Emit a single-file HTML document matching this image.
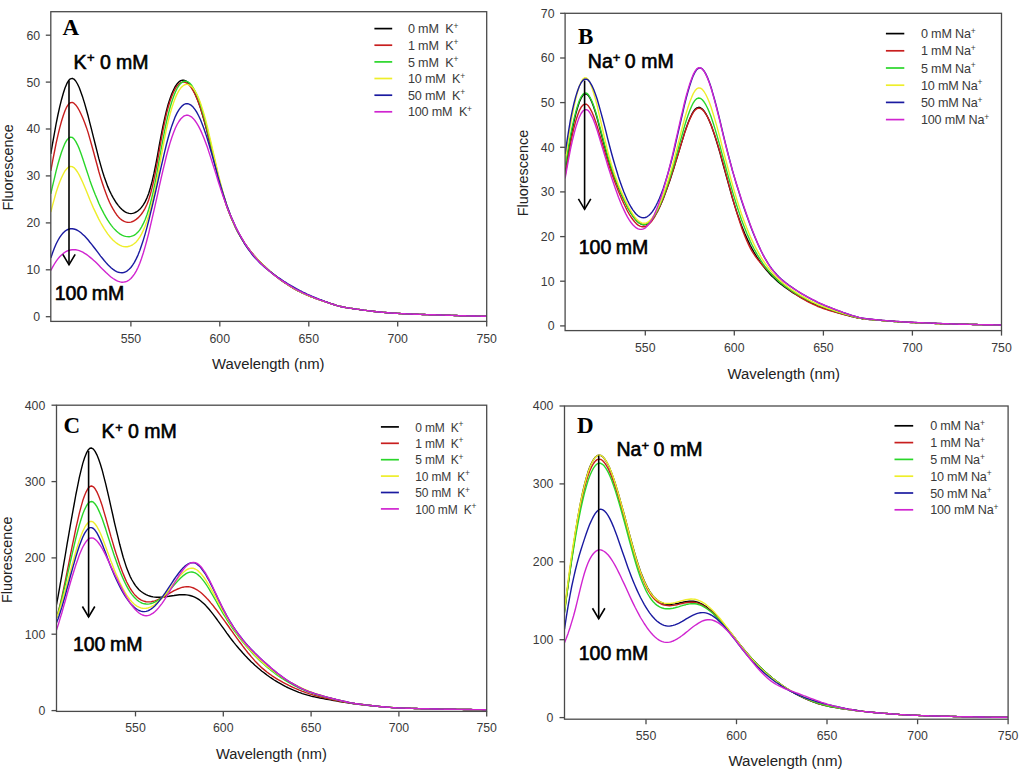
<!DOCTYPE html>
<html><head><meta charset="utf-8"><style>
html,body{margin:0;padding:0;background:#fff;width:1024px;height:772px;overflow:hidden}
svg{display:block}
text{font-family:"Liberation Sans", sans-serif}
text.serif{font-family:"Liberation Serif",serif}
</style></head><body>
<svg width="1024" height="772" viewBox="0 0 1024 772">
<defs><clipPath id="clipA"><rect x="50.8" y="11.7" width="435.9" height="309.7"/></clipPath><clipPath id="clipB"><rect x="565.1" y="13.3" width="436.4" height="317.3"/></clipPath><clipPath id="clipC"><rect x="56.5" y="405.2" width="430.2" height="306.2"/></clipPath><clipPath id="clipD"><rect x="564.5" y="406" width="443.6" height="313.2"/></clipPath></defs>
<rect width="1024" height="772" fill="#fff"/>
<g fill="none" stroke-width="1.4" stroke-linejoin="round" clip-path="url(#clipA)">
<path d="M50.8,153.9 L52.6,143.4 L54.4,133.3 L56.1,123.8 L57.9,115.0 L59.7,106.9 L61.5,99.7 L63.3,93.3 L65.0,88.0 L66.8,83.7 L68.6,80.6 L70.4,78.8 L72.2,78.3 L73.9,79.1 L75.7,81.0 L77.5,84.0 L79.3,87.8 L81.0,92.4 L82.8,97.6 L84.6,103.4 L86.4,109.7 L88.2,116.3 L89.9,123.2 L91.7,130.2 L93.5,137.4 L95.3,144.5 L97.1,151.6 L98.8,158.4 L100.6,164.9 L102.4,171.1 L104.2,176.7 L106.0,181.8 L107.7,186.4 L109.5,190.6 L111.3,194.3 L113.1,197.6 L114.9,200.6 L116.6,203.3 L118.4,205.6 L120.2,207.7 L122.0,209.5 L123.7,210.9 L125.5,212.1 L127.3,212.9 L129.1,213.4 L130.9,213.6 L132.6,213.4 L134.4,212.9 L136.2,212.0 L138.0,210.8 L139.8,209.3 L141.5,207.4 L143.3,204.9 L145.1,201.9 L146.9,198.1 L148.7,193.5 L150.4,187.8 L152.2,181.1 L154.0,173.2 L155.8,164.3 L157.6,154.8 L159.3,145.1 L161.1,135.6 L162.9,126.5 L164.7,118.2 L166.4,110.9 L168.2,104.3 L170.0,98.7 L171.8,93.8 L173.6,89.7 L175.3,86.4 L177.1,83.8 L178.9,81.9 L180.7,80.7 L182.5,80.2 L184.2,80.3 L186.0,81.0 L187.8,82.4 L189.6,84.3 L191.4,86.8 L193.1,89.8 L194.9,93.4 L196.7,97.6 L198.5,102.2 L200.3,107.4 L202.0,113.1 L203.8,119.3 L205.6,125.9 L207.4,132.8 L209.1,140.0 L210.9,147.3 L212.7,154.6 L214.5,162.0 L216.3,169.3 L218.0,176.3 L219.8,183.2 L221.6,189.6 L223.4,195.7 L225.2,201.3 L226.9,206.6 L228.7,211.5 L230.5,216.0 L232.3,220.3 L234.1,224.2 L235.8,227.9 L237.6,231.4 L239.4,234.6 L241.2,237.7 L243.0,240.6 L244.7,243.3 L246.5,245.9 L248.3,248.4 L250.1,250.7 L251.8,252.9 L253.6,255.0 L255.4,257.0 L257.2,258.9 L259.0,260.8 L260.7,262.6 L262.5,264.4 L264.3,266.1 L266.1,267.8 L267.9,269.4 L269.6,271.0 L271.4,272.5 L273.2,274.0 L275.0,275.5 L276.8,276.9 L278.5,278.3 L280.3,279.6 L282.1,280.9 L283.9,282.1 L285.7,283.3 L287.4,284.5 L289.2,285.6 L291.0,286.7 L292.8,287.8 L294.5,288.8 L296.3,289.8 L298.1,290.8 L299.9,291.7 L301.7,292.6 L303.4,293.4 L305.2,294.2 L307.0,295.0 L308.8,295.7 L310.6,296.5 L312.3,297.1 L314.1,297.8 L315.9,298.5 L317.7,299.1 L319.5,299.8 L321.2,300.4 L323.0,301.0 L324.8,301.6 L326.6,302.2 L328.4,302.8 L330.1,303.4 L331.9,304.0 L333.7,304.5 L335.5,305.1 L337.2,305.6 L339.0,306.1 L340.8,306.5 L342.6,307.0 L344.4,307.3 L346.1,307.6 L347.9,307.9 L349.7,308.2 L351.5,308.4 L353.3,308.7 L355.0,308.9 L356.8,309.2 L358.6,309.4 L360.4,309.7 L362.2,309.9 L363.9,310.2 L365.7,310.4 L367.5,310.6 L369.3,310.8 L371.1,311.1 L372.8,311.3 L374.6,311.5 L376.4,311.7 L378.2,311.9 L379.9,312.0 L381.7,312.2 L383.5,312.4 L385.3,312.5 L387.1,312.7 L388.8,312.8 L390.6,313.0 L392.4,313.1 L394.2,313.2 L396.0,313.3 L397.7,313.4 L399.5,313.5 L401.3,313.6 L403.1,313.7 L404.9,313.8 L406.6,313.9 L408.4,313.9 L410.2,314.0 L412.0,314.1 L413.8,314.2 L415.5,314.2 L417.3,314.3 L419.1,314.4 L420.9,314.4 L422.6,314.5 L424.4,314.5 L426.2,314.6 L428.0,314.6 L429.8,314.7 L431.5,314.7 L433.3,314.8 L435.1,314.8 L436.9,314.9 L438.7,314.9 L440.4,315.0 L442.2,315.1 L444.0,315.1 L445.8,315.2 L447.6,315.2 L449.3,315.3 L451.1,315.4 L452.9,315.4 L454.7,315.5 L456.5,315.5 L458.2,315.6 L460.0,315.7 L461.8,315.7 L463.6,315.8 L465.3,315.8 L467.1,315.9 L468.9,315.9 L470.7,315.9 L472.5,316.0 L474.2,316.0 L476.0,316.1 L477.8,316.1 L479.6,316.1 L481.4,316.2 L483.1,316.2 L484.9,316.2 L486.7,316.2" stroke="#000000"/>
<path d="M50.8,170.8 L52.6,161.2 L54.4,152.0 L56.1,143.3 L57.9,135.3 L59.7,127.9 L61.5,121.3 L63.3,115.5 L65.0,110.7 L66.8,106.8 L68.6,104.1 L70.4,102.6 L72.2,102.4 L73.9,103.2 L75.7,104.9 L77.5,107.4 L79.3,110.5 L81.0,114.0 L82.8,118.0 L84.6,122.4 L86.4,127.4 L88.2,132.9 L89.9,138.9 L91.7,145.3 L93.5,151.8 L95.3,158.5 L97.1,165.0 L98.8,171.5 L100.6,177.6 L102.4,183.3 L104.2,188.6 L106.0,193.5 L107.7,198.0 L109.5,202.2 L111.3,205.9 L113.1,209.2 L114.9,212.2 L116.6,214.7 L118.4,216.9 L120.2,218.7 L122.0,220.1 L123.7,221.2 L125.5,221.9 L127.3,222.3 L129.1,222.4 L130.9,222.1 L132.6,221.5 L134.4,220.6 L136.2,219.4 L138.0,217.9 L139.8,216.1 L141.5,214.0 L143.3,211.4 L145.1,208.3 L146.9,204.5 L148.7,199.9 L150.4,194.2 L152.2,187.4 L154.0,179.4 L155.8,170.3 L157.6,160.5 L159.3,150.4 L161.1,140.3 L162.9,130.7 L164.7,121.9 L166.4,114.1 L168.2,107.3 L170.0,101.3 L171.8,96.3 L173.6,92.0 L175.3,88.6 L177.1,85.9 L178.9,84.0 L180.7,82.7 L182.5,82.1 L184.2,82.1 L186.0,82.7 L187.8,83.8 L189.6,85.5 L191.4,87.8 L193.1,90.6 L194.9,94.0 L196.7,97.9 L198.5,102.4 L200.3,107.5 L202.0,113.0 L203.8,119.1 L205.6,125.6 L207.4,132.5 L209.1,139.7 L210.9,147.0 L212.7,154.4 L214.5,161.8 L216.3,169.2 L218.0,176.3 L219.8,183.2 L221.6,189.7 L223.4,195.8 L225.2,201.4 L226.9,206.7 L228.7,211.6 L230.5,216.1 L232.3,220.3 L234.1,224.3 L235.8,227.9 L237.6,231.4 L239.4,234.6 L241.2,237.7 L243.0,240.6 L244.7,243.3 L246.5,245.9 L248.3,248.3 L250.1,250.6 L251.8,252.8 L253.6,254.9 L255.4,257.0 L257.2,258.9 L259.0,260.8 L260.7,262.6 L262.5,264.4 L264.3,266.1 L266.1,267.8 L267.9,269.4 L269.6,271.0 L271.4,272.6 L273.2,274.0 L275.0,275.5 L276.8,276.9 L278.5,278.3 L280.3,279.6 L282.1,280.9 L283.9,282.2 L285.7,283.4 L287.4,284.5 L289.2,285.7 L291.0,286.8 L292.8,287.8 L294.5,288.9 L296.3,289.9 L298.1,290.8 L299.9,291.7 L301.7,292.6 L303.4,293.4 L305.2,294.2 L307.0,295.0 L308.8,295.8 L310.6,296.5 L312.3,297.2 L314.1,297.8 L315.9,298.5 L317.7,299.1 L319.5,299.8 L321.2,300.4 L323.0,301.0 L324.8,301.6 L326.6,302.2 L328.4,302.8 L330.1,303.4 L331.9,304.0 L333.7,304.5 L335.5,305.1 L337.2,305.6 L339.0,306.1 L340.8,306.5 L342.6,307.0 L344.4,307.3 L346.1,307.6 L347.9,307.9 L349.7,308.2 L351.5,308.4 L353.3,308.7 L355.0,308.9 L356.8,309.2 L358.6,309.4 L360.4,309.7 L362.2,309.9 L363.9,310.2 L365.7,310.4 L367.5,310.6 L369.3,310.8 L371.1,311.1 L372.8,311.3 L374.6,311.5 L376.4,311.7 L378.2,311.9 L379.9,312.0 L381.7,312.2 L383.5,312.4 L385.3,312.5 L387.1,312.7 L388.8,312.8 L390.6,313.0 L392.4,313.1 L394.2,313.2 L396.0,313.3 L397.7,313.4 L399.5,313.5 L401.3,313.6 L403.1,313.7 L404.9,313.8 L406.6,313.9 L408.4,313.9 L410.2,314.0 L412.0,314.1 L413.8,314.2 L415.5,314.2 L417.3,314.3 L419.1,314.4 L420.9,314.4 L422.6,314.5 L424.4,314.5 L426.2,314.6 L428.0,314.6 L429.8,314.7 L431.5,314.7 L433.3,314.8 L435.1,314.8 L436.9,314.9 L438.7,314.9 L440.4,315.0 L442.2,315.1 L444.0,315.1 L445.8,315.2 L447.6,315.2 L449.3,315.3 L451.1,315.4 L452.9,315.4 L454.7,315.5 L456.5,315.5 L458.2,315.6 L460.0,315.7 L461.8,315.7 L463.6,315.8 L465.3,315.8 L467.1,315.9 L468.9,315.9 L470.7,315.9 L472.5,316.0 L474.2,316.0 L476.0,316.1 L477.8,316.1 L479.6,316.1 L481.4,316.2 L483.1,316.2 L484.9,316.2 L486.7,316.2" stroke="#c81e1e"/>
<path d="M50.8,193.8 L52.6,185.9 L54.4,178.4 L56.1,171.1 L57.9,164.3 L59.7,158.0 L61.5,152.3 L63.3,147.4 L65.0,143.3 L66.8,140.2 L68.6,138.1 L70.4,137.1 L72.2,137.4 L73.9,138.8 L75.7,141.4 L77.5,144.8 L79.3,148.9 L81.0,153.6 L82.8,158.8 L84.6,164.2 L86.4,169.7 L88.2,175.1 L89.9,180.4 L91.7,185.4 L93.5,190.2 L95.3,194.8 L97.1,199.1 L98.8,203.2 L100.6,207.1 L102.4,210.7 L104.2,214.1 L106.0,217.3 L107.7,220.2 L109.5,222.9 L111.3,225.4 L113.1,227.6 L114.9,229.6 L116.6,231.3 L118.4,232.8 L120.2,234.1 L122.0,235.1 L123.7,235.8 L125.5,236.4 L127.3,236.6 L129.1,236.7 L130.9,236.4 L132.6,235.9 L134.4,235.1 L136.2,233.8 L138.0,232.1 L139.8,229.9 L141.5,227.1 L143.3,223.7 L145.1,219.7 L146.9,215.0 L148.7,209.5 L150.4,203.2 L152.2,196.1 L154.0,188.1 L155.8,179.1 L157.6,169.5 L159.3,159.6 L161.1,149.6 L162.9,139.8 L164.7,130.6 L166.4,122.2 L168.2,114.6 L170.0,107.8 L171.8,101.8 L173.6,96.6 L175.3,92.2 L177.1,88.5 L178.9,85.6 L180.7,83.4 L182.5,82.0 L184.2,81.2 L186.0,81.2 L187.8,81.8 L189.6,83.1 L191.4,85.0 L193.1,87.6 L194.9,90.8 L196.7,94.6 L198.5,99.1 L200.3,104.1 L202.0,109.7 L203.8,115.8 L205.6,122.4 L207.4,129.4 L209.1,136.8 L210.9,144.3 L212.7,151.9 L214.5,159.5 L216.3,167.1 L218.0,174.5 L219.8,181.6 L221.6,188.3 L223.4,194.6 L225.2,200.5 L226.9,205.9 L228.7,211.0 L230.5,215.7 L232.3,220.0 L234.1,224.1 L235.8,227.9 L237.6,231.4 L239.4,234.7 L241.2,237.8 L243.0,240.8 L244.7,243.5 L246.5,246.1 L248.3,248.6 L250.1,250.9 L251.8,253.1 L253.6,255.2 L255.4,257.2 L257.2,259.1 L259.0,260.9 L260.7,262.7 L262.5,264.5 L264.3,266.2 L266.1,267.8 L267.9,269.4 L269.6,271.0 L271.4,272.5 L273.2,274.0 L275.0,275.4 L276.8,276.8 L278.5,278.2 L280.3,279.5 L282.1,280.8 L283.9,282.0 L285.7,283.2 L287.4,284.4 L289.2,285.5 L291.0,286.6 L292.8,287.7 L294.5,288.7 L296.3,289.7 L298.1,290.7 L299.9,291.6 L301.7,292.5 L303.4,293.3 L305.2,294.1 L307.0,294.9 L308.8,295.7 L310.6,296.4 L312.3,297.1 L314.1,297.8 L315.9,298.4 L317.7,299.1 L319.5,299.7 L321.2,300.4 L323.0,301.0 L324.8,301.6 L326.6,302.2 L328.4,302.8 L330.1,303.4 L331.9,304.0 L333.7,304.5 L335.5,305.1 L337.2,305.6 L339.0,306.1 L340.8,306.5 L342.6,307.0 L344.4,307.3 L346.1,307.6 L347.9,307.9 L349.7,308.2 L351.5,308.4 L353.3,308.7 L355.0,308.9 L356.8,309.2 L358.6,309.4 L360.4,309.7 L362.2,309.9 L363.9,310.2 L365.7,310.4 L367.5,310.6 L369.3,310.8 L371.1,311.1 L372.8,311.3 L374.6,311.5 L376.4,311.7 L378.2,311.9 L379.9,312.0 L381.7,312.2 L383.5,312.4 L385.3,312.5 L387.1,312.7 L388.8,312.8 L390.6,313.0 L392.4,313.1 L394.2,313.2 L396.0,313.3 L397.7,313.4 L399.5,313.5 L401.3,313.6 L403.1,313.7 L404.9,313.8 L406.6,313.9 L408.4,313.9 L410.2,314.0 L412.0,314.1 L413.8,314.2 L415.5,314.2 L417.3,314.3 L419.1,314.4 L420.9,314.4 L422.6,314.5 L424.4,314.5 L426.2,314.6 L428.0,314.6 L429.8,314.7 L431.5,314.7 L433.3,314.8 L435.1,314.8 L436.9,314.9 L438.7,314.9 L440.4,315.0 L442.2,315.1 L444.0,315.1 L445.8,315.2 L447.6,315.2 L449.3,315.3 L451.1,315.4 L452.9,315.4 L454.7,315.5 L456.5,315.5 L458.2,315.6 L460.0,315.7 L461.8,315.7 L463.6,315.8 L465.3,315.8 L467.1,315.9 L468.9,315.9 L470.7,315.9 L472.5,316.0 L474.2,316.0 L476.0,316.1 L477.8,316.1 L479.6,316.1 L481.4,316.2 L483.1,316.2 L484.9,316.2 L486.7,316.2" stroke="#2ad62a"/>
<path d="M50.8,212.1 L52.6,205.1 L54.4,198.6 L56.1,192.5 L57.9,187.0 L59.7,182.0 L61.5,177.7 L63.3,174.0 L65.0,170.9 L66.8,168.7 L68.6,167.1 L70.4,166.5 L72.2,166.6 L73.9,167.6 L75.7,169.5 L77.5,172.0 L79.3,175.1 L81.0,178.6 L82.8,182.5 L84.6,186.7 L86.4,191.1 L88.2,195.5 L89.9,199.8 L91.7,204.0 L93.5,208.1 L95.3,211.9 L97.1,215.6 L98.8,219.1 L100.6,222.5 L102.4,225.6 L104.2,228.6 L106.0,231.3 L107.7,233.8 L109.5,236.2 L111.3,238.3 L113.1,240.2 L114.9,241.8 L116.6,243.2 L118.4,244.4 L120.2,245.4 L122.0,246.1 L123.7,246.6 L125.5,246.7 L127.3,246.7 L129.1,246.3 L130.9,245.7 L132.6,244.8 L134.4,243.5 L136.2,241.9 L138.0,239.7 L139.8,237.2 L141.5,234.1 L143.3,230.4 L145.1,226.2 L146.9,221.3 L148.7,215.8 L150.4,209.5 L152.2,202.5 L154.0,194.7 L155.8,186.0 L157.6,176.7 L159.3,166.9 L161.1,157.0 L162.9,147.2 L164.7,137.8 L166.4,129.1 L168.2,121.3 L170.0,114.3 L171.8,108.0 L173.6,102.6 L175.3,97.9 L177.1,93.9 L178.9,90.6 L180.7,88.1 L182.5,86.2 L184.2,85.0 L186.0,84.4 L187.8,84.4 L189.6,85.1 L191.4,86.3 L193.1,88.2 L194.9,90.8 L196.7,94.0 L198.5,97.9 L200.3,102.4 L202.0,107.6 L203.8,113.4 L205.6,119.9 L207.4,126.9 L209.1,134.3 L210.9,141.9 L212.7,149.8 L214.5,157.6 L216.3,165.5 L218.0,173.1 L219.8,180.5 L221.6,187.5 L223.4,194.0 L225.2,200.1 L226.9,205.7 L228.7,210.8 L230.5,215.6 L232.3,220.1 L234.1,224.2 L235.8,228.0 L237.6,231.5 L239.4,234.9 L241.2,238.0 L243.0,240.9 L244.7,243.7 L246.5,246.2 L248.3,248.7 L250.1,251.0 L251.8,253.2 L253.6,255.2 L255.4,257.2 L257.2,259.1 L259.0,261.0 L260.7,262.8 L262.5,264.5 L264.3,266.2 L266.1,267.8 L267.9,269.4 L269.6,271.0 L271.4,272.5 L273.2,274.0 L275.0,275.4 L276.8,276.8 L278.5,278.2 L280.3,279.5 L282.1,280.8 L283.9,282.0 L285.7,283.2 L287.4,284.4 L289.2,285.5 L291.0,286.6 L292.8,287.6 L294.5,288.7 L296.3,289.7 L298.1,290.6 L299.9,291.5 L301.7,292.4 L303.4,293.3 L305.2,294.1 L307.0,294.9 L308.8,295.6 L310.6,296.3 L312.3,297.1 L314.1,297.7 L315.9,298.4 L317.7,299.1 L319.5,299.7 L321.2,300.4 L323.0,301.0 L324.8,301.6 L326.6,302.2 L328.4,302.8 L330.1,303.4 L331.9,304.0 L333.7,304.5 L335.5,305.1 L337.2,305.6 L339.0,306.1 L340.8,306.5 L342.6,307.0 L344.4,307.3 L346.1,307.6 L347.9,307.9 L349.7,308.2 L351.5,308.4 L353.3,308.7 L355.0,308.9 L356.8,309.2 L358.6,309.4 L360.4,309.7 L362.2,309.9 L363.9,310.2 L365.7,310.4 L367.5,310.6 L369.3,310.8 L371.1,311.1 L372.8,311.3 L374.6,311.5 L376.4,311.7 L378.2,311.9 L379.9,312.0 L381.7,312.2 L383.5,312.4 L385.3,312.5 L387.1,312.7 L388.8,312.8 L390.6,313.0 L392.4,313.1 L394.2,313.2 L396.0,313.3 L397.7,313.4 L399.5,313.5 L401.3,313.6 L403.1,313.7 L404.9,313.8 L406.6,313.9 L408.4,313.9 L410.2,314.0 L412.0,314.1 L413.8,314.2 L415.5,314.2 L417.3,314.3 L419.1,314.4 L420.9,314.4 L422.6,314.5 L424.4,314.5 L426.2,314.6 L428.0,314.6 L429.8,314.7 L431.5,314.7 L433.3,314.8 L435.1,314.8 L436.9,314.9 L438.7,314.9 L440.4,315.0 L442.2,315.1 L444.0,315.1 L445.8,315.2 L447.6,315.2 L449.3,315.3 L451.1,315.4 L452.9,315.4 L454.7,315.5 L456.5,315.5 L458.2,315.6 L460.0,315.7 L461.8,315.7 L463.6,315.8 L465.3,315.8 L467.1,315.9 L468.9,315.9 L470.7,315.9 L472.5,316.0 L474.2,316.0 L476.0,316.1 L477.8,316.1 L479.6,316.1 L481.4,316.2 L483.1,316.2 L484.9,316.2 L486.7,316.2" stroke="#eeee2a"/>
<path d="M50.8,258.1 L52.6,252.8 L54.4,248.1 L56.1,244.0 L57.9,240.5 L59.7,237.4 L61.5,234.9 L63.3,232.8 L65.0,231.2 L66.8,230.0 L68.6,229.2 L70.4,228.8 L72.2,228.7 L73.9,229.0 L75.7,229.5 L77.5,230.4 L79.3,231.5 L81.0,232.8 L82.8,234.4 L84.6,236.1 L86.4,238.0 L88.2,240.0 L89.9,242.2 L91.7,244.4 L93.5,246.7 L95.3,249.0 L97.1,251.4 L98.8,253.7 L100.6,256.1 L102.4,258.3 L104.2,260.5 L106.0,262.6 L107.7,264.5 L109.5,266.3 L111.3,268.0 L113.1,269.4 L114.9,270.6 L116.6,271.6 L118.4,272.3 L120.2,272.6 L122.0,272.7 L123.7,272.5 L125.5,271.8 L127.3,270.8 L129.1,269.3 L130.9,267.5 L132.6,265.1 L134.4,262.3 L136.2,258.9 L138.0,255.1 L139.8,250.6 L141.5,245.6 L143.3,240.1 L145.1,234.1 L146.9,227.6 L148.7,220.8 L150.4,213.7 L152.2,206.3 L154.0,198.6 L155.8,190.9 L157.6,182.9 L159.3,175.0 L161.1,167.1 L162.9,159.3 L164.7,151.7 L166.4,144.5 L168.2,137.8 L170.0,131.5 L171.8,125.9 L173.6,121.0 L175.3,116.6 L177.1,112.9 L178.9,109.9 L180.7,107.4 L182.5,105.6 L184.2,104.3 L186.0,103.7 L187.8,103.7 L189.6,104.3 L191.4,105.4 L193.1,107.1 L194.9,109.4 L196.7,112.2 L198.5,115.5 L200.3,119.3 L202.0,123.6 L203.8,128.3 L205.6,133.4 L207.4,139.0 L209.1,144.9 L210.9,151.0 L212.7,157.4 L214.5,163.8 L216.3,170.3 L218.0,176.7 L219.8,182.9 L221.6,189.0 L223.4,194.7 L225.2,200.2 L226.9,205.4 L228.7,210.3 L230.5,215.0 L232.3,219.4 L234.1,223.5 L235.8,227.4 L237.6,231.2 L239.4,234.6 L241.2,237.9 L243.0,241.0 L244.7,244.0 L246.5,246.7 L248.3,249.3 L250.1,251.7 L251.8,254.0 L253.6,256.2 L255.4,258.2 L257.2,260.1 L259.0,261.9 L260.7,263.7 L262.5,265.3 L264.3,266.9 L266.1,268.4 L267.9,269.8 L269.6,271.2 L271.4,272.6 L273.2,273.9 L275.0,275.2 L276.8,276.5 L278.5,277.7 L280.3,278.9 L282.1,280.1 L283.9,281.3 L285.7,282.4 L287.4,283.5 L289.2,284.6 L291.0,285.7 L292.8,286.7 L294.5,287.7 L296.3,288.7 L298.1,289.6 L299.9,290.6 L301.7,291.5 L303.4,292.4 L305.2,293.2 L307.0,294.1 L308.8,294.9 L310.6,295.7 L312.3,296.5 L314.1,297.2 L315.9,297.9 L317.7,298.7 L319.5,299.4 L321.2,300.0 L323.0,300.7 L324.8,301.4 L326.6,302.0 L328.4,302.7 L330.1,303.3 L331.9,303.9 L333.7,304.5 L335.5,305.1 L337.2,305.6 L339.0,306.1 L340.8,306.5 L342.6,307.0 L344.4,307.3 L346.1,307.6 L347.9,307.9 L349.7,308.2 L351.5,308.4 L353.3,308.7 L355.0,308.9 L356.8,309.2 L358.6,309.4 L360.4,309.7 L362.2,309.9 L363.9,310.2 L365.7,310.4 L367.5,310.6 L369.3,310.8 L371.1,311.1 L372.8,311.3 L374.6,311.5 L376.4,311.7 L378.2,311.9 L379.9,312.0 L381.7,312.2 L383.5,312.4 L385.3,312.5 L387.1,312.7 L388.8,312.8 L390.6,313.0 L392.4,313.1 L394.2,313.2 L396.0,313.3 L397.7,313.4 L399.5,313.5 L401.3,313.6 L403.1,313.7 L404.9,313.8 L406.6,313.9 L408.4,313.9 L410.2,314.0 L412.0,314.1 L413.8,314.2 L415.5,314.2 L417.3,314.3 L419.1,314.4 L420.9,314.4 L422.6,314.5 L424.4,314.5 L426.2,314.6 L428.0,314.6 L429.8,314.7 L431.5,314.7 L433.3,314.8 L435.1,314.8 L436.9,314.9 L438.7,314.9 L440.4,315.0 L442.2,315.1 L444.0,315.1 L445.8,315.2 L447.6,315.2 L449.3,315.3 L451.1,315.4 L452.9,315.4 L454.7,315.5 L456.5,315.5 L458.2,315.6 L460.0,315.7 L461.8,315.7 L463.6,315.8 L465.3,315.8 L467.1,315.9 L468.9,315.9 L470.7,315.9 L472.5,316.0 L474.2,316.0 L476.0,316.1 L477.8,316.1 L479.6,316.1 L481.4,316.2 L483.1,316.2 L484.9,316.2 L486.7,316.2" stroke="#1a1aa0"/>
<path d="M50.8,270.5 L52.6,267.1 L54.4,264.0 L56.1,261.3 L57.9,258.9 L59.7,256.8 L61.5,255.0 L63.3,253.4 L65.0,252.2 L66.8,251.2 L68.6,250.5 L70.4,250.0 L72.2,249.7 L73.9,249.6 L75.7,249.8 L77.5,250.1 L79.3,250.7 L81.0,251.4 L82.8,252.2 L84.6,253.3 L86.4,254.4 L88.2,255.7 L89.9,257.1 L91.7,258.6 L93.5,260.2 L95.3,261.8 L97.1,263.6 L98.8,265.3 L100.6,267.2 L102.4,269.0 L104.2,270.7 L106.0,272.5 L107.7,274.1 L109.5,275.7 L111.3,277.2 L113.1,278.5 L114.9,279.6 L116.6,280.6 L118.4,281.4 L120.2,281.9 L122.0,282.2 L123.7,282.1 L125.5,281.8 L127.3,281.1 L129.1,280.0 L130.9,278.5 L132.6,276.5 L134.4,274.1 L136.2,271.1 L138.0,267.5 L139.8,263.3 L141.5,258.5 L143.3,253.0 L145.1,246.9 L146.9,240.3 L148.7,233.3 L150.4,225.9 L152.2,218.2 L154.0,210.3 L155.8,202.3 L157.6,194.3 L159.3,186.3 L161.1,178.3 L162.9,170.6 L164.7,163.1 L166.4,156.0 L168.2,149.3 L170.0,143.1 L171.8,137.5 L173.6,132.5 L175.3,128.2 L177.1,124.5 L178.9,121.5 L180.7,119.0 L182.5,117.2 L184.2,115.9 L186.0,115.3 L187.8,115.2 L189.6,115.8 L191.4,116.8 L193.1,118.4 L194.9,120.5 L196.7,123.1 L198.5,126.1 L200.3,129.6 L202.0,133.4 L203.8,137.7 L205.6,142.4 L207.4,147.3 L209.1,152.6 L210.9,158.1 L212.7,163.7 L214.5,169.4 L216.3,175.1 L218.0,180.8 L219.8,186.4 L221.6,191.8 L223.4,197.0 L225.2,201.9 L226.9,206.7 L228.7,211.2 L230.5,215.4 L232.3,219.5 L234.1,223.4 L235.8,227.1 L237.6,230.6 L239.4,234.0 L241.2,237.2 L243.0,240.2 L244.7,243.1 L246.5,245.8 L248.3,248.4 L250.1,250.8 L251.8,253.1 L253.6,255.4 L255.4,257.5 L257.2,259.5 L259.0,261.4 L260.7,263.2 L262.5,265.0 L264.3,266.6 L266.1,268.2 L267.9,269.8 L269.6,271.3 L271.4,272.8 L273.2,274.2 L275.0,275.6 L276.8,276.9 L278.5,278.2 L280.3,279.5 L282.1,280.7 L283.9,281.9 L285.7,283.1 L287.4,284.2 L289.2,285.3 L291.0,286.4 L292.8,287.5 L294.5,288.5 L296.3,289.5 L298.1,290.4 L299.9,291.3 L301.7,292.2 L303.4,293.1 L305.2,293.9 L307.0,294.7 L308.8,295.4 L310.6,296.2 L312.3,296.9 L314.1,297.6 L315.9,298.3 L317.7,299.0 L319.5,299.6 L321.2,300.3 L323.0,300.9 L324.8,301.5 L326.6,302.2 L328.4,302.8 L330.1,303.4 L331.9,304.0 L333.7,304.5 L335.5,305.1 L337.2,305.6 L339.0,306.1 L340.8,306.5 L342.6,307.0 L344.4,307.3 L346.1,307.6 L347.9,307.9 L349.7,308.2 L351.5,308.4 L353.3,308.7 L355.0,308.9 L356.8,309.2 L358.6,309.4 L360.4,309.7 L362.2,309.9 L363.9,310.2 L365.7,310.4 L367.5,310.6 L369.3,310.8 L371.1,311.1 L372.8,311.3 L374.6,311.5 L376.4,311.7 L378.2,311.9 L379.9,312.0 L381.7,312.2 L383.5,312.4 L385.3,312.5 L387.1,312.7 L388.8,312.8 L390.6,313.0 L392.4,313.1 L394.2,313.2 L396.0,313.3 L397.7,313.4 L399.5,313.5 L401.3,313.6 L403.1,313.7 L404.9,313.8 L406.6,313.9 L408.4,313.9 L410.2,314.0 L412.0,314.1 L413.8,314.2 L415.5,314.2 L417.3,314.3 L419.1,314.4 L420.9,314.4 L422.6,314.5 L424.4,314.5 L426.2,314.6 L428.0,314.6 L429.8,314.7 L431.5,314.7 L433.3,314.8 L435.1,314.8 L436.9,314.9 L438.7,314.9 L440.4,315.0 L442.2,315.1 L444.0,315.1 L445.8,315.2 L447.6,315.2 L449.3,315.3 L451.1,315.4 L452.9,315.4 L454.7,315.5 L456.5,315.5 L458.2,315.6 L460.0,315.7 L461.8,315.7 L463.6,315.8 L465.3,315.8 L467.1,315.9 L468.9,315.9 L470.7,315.9 L472.5,316.0 L474.2,316.0 L476.0,316.1 L477.8,316.1 L479.6,316.1 L481.4,316.2 L483.1,316.2 L484.9,316.2 L486.7,316.2" stroke="#d024d0"/>
</g>
<rect x="50.8" y="11.7" width="435.9" height="309.7" fill="none" stroke="#4a4a4a" stroke-width="1.3"/>
<line x1="45.8" y1="316.7" x2="50.8" y2="316.7" stroke="#4a4a4a" stroke-width="1.3"/>
<text x="40.2" y="321.1" text-anchor="end" font-size="12.3" fill="#3a3a3a">0</text>
<line x1="45.8" y1="269.8" x2="50.8" y2="269.8" stroke="#4a4a4a" stroke-width="1.3"/>
<text x="40.2" y="274.2" text-anchor="end" font-size="12.3" fill="#3a3a3a">10</text>
<line x1="45.8" y1="222.9" x2="50.8" y2="222.9" stroke="#4a4a4a" stroke-width="1.3"/>
<text x="40.2" y="227.3" text-anchor="end" font-size="12.3" fill="#3a3a3a">20</text>
<line x1="45.8" y1="175.9" x2="50.8" y2="175.9" stroke="#4a4a4a" stroke-width="1.3"/>
<text x="40.2" y="180.3" text-anchor="end" font-size="12.3" fill="#3a3a3a">30</text>
<line x1="45.8" y1="129.0" x2="50.8" y2="129.0" stroke="#4a4a4a" stroke-width="1.3"/>
<text x="40.2" y="133.4" text-anchor="end" font-size="12.3" fill="#3a3a3a">40</text>
<line x1="45.8" y1="82.1" x2="50.8" y2="82.1" stroke="#4a4a4a" stroke-width="1.3"/>
<text x="40.2" y="86.5" text-anchor="end" font-size="12.3" fill="#3a3a3a">50</text>
<line x1="45.8" y1="35.2" x2="50.8" y2="35.2" stroke="#4a4a4a" stroke-width="1.3"/>
<text x="40.2" y="39.6" text-anchor="end" font-size="12.3" fill="#3a3a3a">60</text>
<line x1="130.9" y1="321.4" x2="130.9" y2="326.4" stroke="#4a4a4a" stroke-width="1.3"/>
<text x="130.9" y="342.6" text-anchor="middle" font-size="12.3" fill="#3a3a3a">550</text>
<line x1="219.8" y1="321.4" x2="219.8" y2="326.4" stroke="#4a4a4a" stroke-width="1.3"/>
<text x="219.8" y="342.6" text-anchor="middle" font-size="12.3" fill="#3a3a3a">600</text>
<line x1="308.8" y1="321.4" x2="308.8" y2="326.4" stroke="#4a4a4a" stroke-width="1.3"/>
<text x="308.8" y="342.6" text-anchor="middle" font-size="12.3" fill="#3a3a3a">650</text>
<line x1="397.7" y1="321.4" x2="397.7" y2="326.4" stroke="#4a4a4a" stroke-width="1.3"/>
<text x="397.7" y="342.6" text-anchor="middle" font-size="12.3" fill="#3a3a3a">700</text>
<line x1="486.7" y1="321.4" x2="486.7" y2="326.4" stroke="#4a4a4a" stroke-width="1.3"/>
<text x="486.7" y="342.6" text-anchor="middle" font-size="12.3" fill="#3a3a3a">750</text>
<text x="212" y="369" font-size="14.85" fill="#222">Wavelength (nm)</text>
<text transform="translate(13.4,167.4) rotate(-90)" text-anchor="middle" font-size="14.4" fill="#222">Fluorescence</text>
<text x="62.5" y="35" class="serif" font-weight="bold" font-size="23" fill="#000">A</text>
<text x="73.4" y="68.7" font-size="19.5" fill="#000" stroke="#000" stroke-width="0.6">K</text>
<text x="87.0" y="62.2" font-size="13" fill="#000" stroke="#000" stroke-width="0.5">+</text>
<text x="99.9" y="68.7" font-size="19.5" fill="#000" stroke="#000" stroke-width="0.6">0</text>
<text x="116.0" y="68.7" font-size="19.5" fill="#000" stroke="#000" stroke-width="0.6">mM</text>
<text x="54.7" y="300.3" font-size="19.5" fill="#000" stroke="#000" stroke-width="0.6">100</text>
<text x="91.7" y="300.3" font-size="19.5" fill="#000" stroke="#000" stroke-width="0.6">mM</text>
<line x1="69.0" y1="80.5" x2="69.0" y2="264.8" stroke="#000" stroke-width="1.6"/>
<path d="M62.8,254.3 L69.0,264.8 L75.2,254.3" fill="none" stroke="#000" stroke-width="1.6"/>
<line x1="374.4" y1="28.6" x2="392.2" y2="28.6" stroke="#000000" stroke-width="1.7"/>
<text x="408" y="33.2" font-size="12.6" letter-spacing="-0.2" fill="#3a3a3a">0 mM  K<tspan dy="-4.5" font-size="8.5">+</tspan></text>
<line x1="374.4" y1="45.2" x2="392.2" y2="45.2" stroke="#c81e1e" stroke-width="1.7"/>
<text x="408" y="49.9" font-size="12.6" letter-spacing="-0.2" fill="#3a3a3a">1 mM  K<tspan dy="-4.5" font-size="8.5">+</tspan></text>
<line x1="374.4" y1="61.9" x2="392.2" y2="61.9" stroke="#2ad62a" stroke-width="1.7"/>
<text x="408" y="66.5" font-size="12.6" letter-spacing="-0.2" fill="#3a3a3a">5 mM  K<tspan dy="-4.5" font-size="8.5">+</tspan></text>
<line x1="374.4" y1="78.5" x2="392.2" y2="78.5" stroke="#eeee2a" stroke-width="1.7"/>
<text x="408" y="83.1" font-size="12.6" letter-spacing="-0.2" fill="#3a3a3a">10 mM  K<tspan dy="-4.5" font-size="8.5">+</tspan></text>
<line x1="374.4" y1="95.2" x2="392.2" y2="95.2" stroke="#1a1aa0" stroke-width="1.7"/>
<text x="408" y="99.8" font-size="12.6" letter-spacing="-0.2" fill="#3a3a3a">50 mM  K<tspan dy="-4.5" font-size="8.5">+</tspan></text>
<line x1="374.4" y1="111.8" x2="392.2" y2="111.8" stroke="#d024d0" stroke-width="1.7"/>
<text x="408" y="116.4" font-size="12.6" letter-spacing="-0.2" fill="#3a3a3a">100 mM  K<tspan dy="-4.5" font-size="8.5">+</tspan></text>
<g fill="none" stroke-width="1.4" stroke-linejoin="round" clip-path="url(#clipB)">
<path d="M565.1,171.8 L566.9,160.3 L568.7,149.4 L570.4,139.2 L572.2,129.9 L574.0,121.4 L575.8,113.9 L577.6,107.5 L579.3,102.2 L581.1,98.1 L582.9,95.3 L584.7,93.9 L586.5,94.0 L588.3,95.4 L590.0,98.2 L591.8,102.0 L593.6,106.8 L595.4,112.3 L597.2,118.4 L598.9,124.9 L600.7,131.7 L602.5,138.6 L604.3,145.3 L606.1,151.8 L607.8,158.0 L609.6,163.7 L611.4,169.1 L613.2,174.2 L615.0,178.9 L616.8,183.5 L618.5,187.8 L620.3,191.9 L622.1,195.9 L623.9,199.7 L625.7,203.4 L627.4,206.9 L629.2,210.1 L631.0,213.2 L632.8,215.9 L634.6,218.3 L636.3,220.4 L638.1,222.1 L639.9,223.4 L641.7,224.3 L643.5,224.7 L645.3,224.6 L647.0,224.0 L648.8,223.0 L650.6,221.4 L652.4,219.4 L654.2,216.9 L655.9,214.0 L657.7,210.8 L659.5,207.2 L661.3,203.2 L663.1,199.0 L664.8,194.4 L666.6,189.6 L668.4,184.6 L670.2,179.4 L672.0,173.9 L673.8,168.4 L675.5,162.6 L677.3,156.8 L679.1,150.9 L680.9,144.9 L682.7,139.1 L684.4,133.4 L686.2,128.0 L688.0,123.1 L689.8,118.6 L691.6,114.7 L693.3,111.6 L695.1,109.2 L696.9,107.8 L698.7,107.3 L700.5,107.7 L702.3,109.0 L704.0,110.9 L705.8,113.6 L707.6,117.0 L709.4,120.9 L711.2,125.3 L712.9,130.2 L714.7,135.6 L716.5,141.3 L718.3,147.2 L720.1,153.4 L721.8,159.8 L723.6,166.3 L725.4,172.9 L727.2,179.4 L729.0,185.9 L730.8,192.3 L732.5,198.4 L734.3,204.4 L736.1,210.1 L737.9,215.4 L739.7,220.5 L741.4,225.3 L743.2,229.8 L745.0,234.1 L746.8,238.1 L748.6,241.9 L750.3,245.5 L752.1,248.9 L753.9,252.1 L755.7,255.1 L757.5,258.0 L759.3,260.6 L761.0,263.2 L762.8,265.6 L764.6,267.8 L766.4,270.0 L768.2,272.0 L769.9,274.0 L771.7,275.9 L773.5,277.6 L775.3,279.3 L777.1,280.9 L778.8,282.5 L780.6,283.9 L782.4,285.3 L784.2,286.7 L786.0,288.0 L787.8,289.2 L789.5,290.5 L791.3,291.6 L793.1,292.8 L794.9,293.9 L796.7,295.0 L798.4,296.0 L800.2,297.1 L802.0,298.0 L803.8,299.0 L805.6,300.0 L807.3,300.9 L809.1,301.7 L810.9,302.6 L812.7,303.4 L814.5,304.2 L816.3,305.0 L818.0,305.8 L819.8,306.5 L821.6,307.2 L823.4,307.9 L825.2,308.5 L826.9,309.2 L828.7,309.8 L830.5,310.3 L832.3,310.9 L834.1,311.4 L835.8,312.0 L837.6,312.5 L839.4,313.0 L841.2,313.6 L843.0,314.1 L844.8,314.6 L846.5,315.1 L848.3,315.5 L850.1,316.0 L851.9,316.5 L853.7,316.9 L855.4,317.3 L857.2,317.7 L859.0,318.1 L860.8,318.4 L862.6,318.7 L864.3,318.9 L866.1,319.1 L867.9,319.3 L869.7,319.5 L871.5,319.6 L873.3,319.8 L875.0,320.0 L876.8,320.1 L878.6,320.3 L880.4,320.4 L882.2,320.6 L883.9,320.7 L885.7,320.9 L887.5,321.0 L889.3,321.1 L891.1,321.3 L892.8,321.4 L894.6,321.5 L896.4,321.6 L898.2,321.8 L900.0,321.9 L901.8,322.0 L903.5,322.1 L905.3,322.2 L907.1,322.3 L908.9,322.4 L910.7,322.5 L912.4,322.6 L914.2,322.6 L916.0,322.7 L917.8,322.8 L919.6,322.9 L921.3,323.0 L923.1,323.0 L924.9,323.1 L926.7,323.2 L928.5,323.3 L930.3,323.3 L932.0,323.4 L933.8,323.4 L935.6,323.5 L937.4,323.6 L939.2,323.6 L940.9,323.7 L942.7,323.7 L944.5,323.8 L946.3,323.8 L948.1,323.9 L949.8,323.9 L951.6,324.0 L953.4,324.0 L955.2,324.1 L957.0,324.1 L958.8,324.2 L960.5,324.2 L962.3,324.2 L964.1,324.3 L965.9,324.3 L967.7,324.3 L969.4,324.4 L971.2,324.4 L973.0,324.5 L974.8,324.5 L976.6,324.5 L978.3,324.6 L980.1,324.6 L981.9,324.6 L983.7,324.7 L985.5,324.7 L987.3,324.7 L989.0,324.8 L990.8,324.8 L992.6,324.8 L994.4,324.9 L996.2,324.9 L997.9,324.9 L999.7,325.0 L1001.5,325.0" stroke="#000000"/>
<path d="M565.1,176.3 L566.9,164.7 L568.7,154.0 L570.4,144.3 L572.2,135.5 L574.0,127.7 L575.8,120.9 L577.6,115.3 L579.3,110.7 L581.1,107.3 L582.9,105.1 L584.7,104.1 L586.5,104.3 L588.3,105.8 L590.0,108.4 L591.8,111.8 L593.6,116.1 L595.4,121.0 L597.2,126.4 L598.9,132.2 L600.7,138.2 L602.5,144.3 L604.3,150.3 L606.1,156.2 L607.8,161.8 L609.6,167.2 L611.4,172.5 L613.2,177.5 L615.0,182.4 L616.8,187.0 L618.5,191.5 L620.3,195.8 L622.1,199.9 L623.9,203.8 L625.7,207.5 L627.4,211.0 L629.2,214.1 L631.0,217.0 L632.8,219.5 L634.6,221.8 L636.3,223.6 L638.1,225.1 L639.9,226.1 L641.7,226.7 L643.5,226.8 L645.3,226.5 L647.0,225.6 L648.8,224.3 L650.6,222.5 L652.4,220.2 L654.2,217.6 L655.9,214.5 L657.7,211.1 L659.5,207.3 L661.3,203.2 L663.1,198.9 L664.8,194.2 L666.6,189.4 L668.4,184.3 L670.2,179.0 L672.0,173.6 L673.8,168.0 L675.5,162.3 L677.3,156.5 L679.1,150.7 L680.9,144.9 L682.7,139.1 L684.4,133.6 L686.2,128.4 L688.0,123.5 L689.8,119.2 L691.6,115.4 L693.3,112.4 L695.1,110.1 L696.9,108.7 L698.7,108.1 L700.5,108.5 L702.3,109.6 L704.0,111.4 L705.8,114.0 L707.6,117.1 L709.4,120.9 L711.2,125.2 L712.9,129.9 L714.7,135.1 L716.5,140.6 L718.3,146.5 L720.1,152.6 L721.8,158.9 L723.6,165.3 L725.4,171.9 L727.2,178.5 L729.0,185.1 L730.8,191.6 L732.5,198.1 L734.3,204.3 L736.1,210.4 L737.9,216.1 L739.7,221.7 L741.4,226.9 L743.2,231.9 L745.0,236.5 L746.8,240.7 L748.6,244.6 L750.3,248.1 L752.1,251.3 L753.9,254.2 L755.7,256.8 L757.5,259.2 L759.3,261.4 L761.0,263.5 L762.8,265.4 L764.6,267.2 L766.4,269.0 L768.2,270.8 L769.9,272.6 L771.7,274.3 L773.5,276.0 L775.3,277.7 L777.1,279.3 L778.8,280.9 L780.6,282.5 L782.4,284.1 L784.2,285.6 L786.0,287.0 L787.8,288.4 L789.5,289.8 L791.3,291.2 L793.1,292.5 L794.9,293.7 L796.7,294.9 L798.4,296.1 L800.2,297.2 L802.0,298.3 L803.8,299.4 L805.6,300.4 L807.3,301.4 L809.1,302.3 L810.9,303.2 L812.7,304.1 L814.5,304.9 L816.3,305.7 L818.0,306.5 L819.8,307.2 L821.6,307.9 L823.4,308.5 L825.2,309.1 L826.9,309.7 L828.7,310.3 L830.5,310.8 L832.3,311.3 L834.1,311.8 L835.8,312.4 L837.6,312.8 L839.4,313.3 L841.2,313.8 L843.0,314.3 L844.8,314.7 L846.5,315.2 L848.3,315.6 L850.1,316.1 L851.9,316.5 L853.7,316.9 L855.4,317.3 L857.2,317.7 L859.0,318.1 L860.8,318.4 L862.6,318.7 L864.3,318.9 L866.1,319.1 L867.9,319.3 L869.7,319.5 L871.5,319.6 L873.3,319.8 L875.0,320.0 L876.8,320.1 L878.6,320.3 L880.4,320.4 L882.2,320.6 L883.9,320.7 L885.7,320.9 L887.5,321.0 L889.3,321.1 L891.1,321.3 L892.8,321.4 L894.6,321.5 L896.4,321.6 L898.2,321.8 L900.0,321.9 L901.8,322.0 L903.5,322.1 L905.3,322.2 L907.1,322.3 L908.9,322.4 L910.7,322.5 L912.4,322.6 L914.2,322.6 L916.0,322.7 L917.8,322.8 L919.6,322.9 L921.3,323.0 L923.1,323.0 L924.9,323.1 L926.7,323.2 L928.5,323.3 L930.3,323.3 L932.0,323.4 L933.8,323.4 L935.6,323.5 L937.4,323.6 L939.2,323.6 L940.9,323.7 L942.7,323.7 L944.5,323.8 L946.3,323.8 L948.1,323.9 L949.8,323.9 L951.6,324.0 L953.4,324.0 L955.2,324.1 L957.0,324.1 L958.8,324.2 L960.5,324.2 L962.3,324.2 L964.1,324.3 L965.9,324.3 L967.7,324.3 L969.4,324.4 L971.2,324.4 L973.0,324.5 L974.8,324.5 L976.6,324.5 L978.3,324.6 L980.1,324.6 L981.9,324.6 L983.7,324.7 L985.5,324.7 L987.3,324.7 L989.0,324.8 L990.8,324.8 L992.6,324.8 L994.4,324.9 L996.2,324.9 L997.9,324.9 L999.7,325.0 L1001.5,325.0" stroke="#c81e1e"/>
<path d="M565.1,167.4 L566.9,156.2 L568.7,145.7 L570.4,135.9 L572.2,127.0 L574.0,118.9 L575.8,111.8 L577.6,105.7 L579.3,100.7 L581.1,96.9 L582.9,94.3 L584.7,93.0 L586.5,93.1 L588.3,94.6 L590.0,97.3 L591.8,101.0 L593.6,105.6 L595.4,111.0 L597.2,117.0 L598.9,123.4 L600.7,130.0 L602.5,136.8 L604.3,143.5 L606.1,150.1 L607.8,156.3 L609.6,162.2 L611.4,167.7 L613.2,173.0 L615.0,177.9 L616.8,182.6 L618.5,187.1 L620.3,191.4 L622.1,195.5 L623.9,199.5 L625.7,203.2 L627.4,206.8 L629.2,210.1 L631.0,213.1 L632.8,215.9 L634.6,218.3 L636.3,220.4 L638.1,222.1 L639.9,223.3 L641.7,224.2 L643.5,224.5 L645.3,224.4 L647.0,223.7 L648.8,222.6 L650.6,220.9 L652.4,218.8 L654.2,216.2 L655.9,213.2 L657.7,209.8 L659.5,206.0 L661.3,201.8 L663.1,197.3 L664.8,192.5 L666.6,187.5 L668.4,182.1 L670.2,176.5 L672.0,170.7 L673.8,164.6 L675.5,158.4 L677.3,152.1 L679.1,145.6 L680.9,139.1 L682.7,132.8 L684.4,126.6 L686.2,120.8 L688.0,115.4 L689.8,110.5 L691.6,106.3 L693.3,102.8 L695.1,100.2 L696.9,98.6 L698.7,98.0 L700.5,98.4 L702.3,99.7 L704.0,101.8 L705.8,104.7 L707.6,108.2 L709.4,112.4 L711.2,117.1 L712.9,122.3 L714.7,127.9 L716.5,133.9 L718.3,140.1 L720.1,146.4 L721.8,152.9 L723.6,159.5 L725.4,166.0 L727.2,172.6 L729.0,179.0 L730.8,185.4 L732.5,191.6 L734.3,197.6 L736.1,203.5 L737.9,209.0 L739.7,214.4 L741.4,219.4 L743.2,224.2 L745.0,228.8 L746.8,233.2 L748.6,237.3 L750.3,241.2 L752.1,245.0 L753.9,248.5 L755.7,251.8 L757.5,255.0 L759.3,257.9 L761.0,260.7 L762.8,263.4 L764.6,265.9 L766.4,268.2 L768.2,270.5 L769.9,272.6 L771.7,274.5 L773.5,276.4 L775.3,278.1 L777.1,279.8 L778.8,281.4 L780.6,282.9 L782.4,284.3 L784.2,285.6 L786.0,286.9 L787.8,288.2 L789.5,289.4 L791.3,290.5 L793.1,291.7 L794.9,292.8 L796.7,293.9 L798.4,294.9 L800.2,295.9 L802.0,296.9 L803.8,297.9 L805.6,298.9 L807.3,299.8 L809.1,300.7 L810.9,301.6 L812.7,302.4 L814.5,303.2 L816.3,304.0 L818.0,304.8 L819.8,305.6 L821.6,306.3 L823.4,307.0 L825.2,307.7 L826.9,308.4 L828.7,309.0 L830.5,309.6 L832.3,310.2 L834.1,310.8 L835.8,311.4 L837.6,312.0 L839.4,312.5 L841.2,313.1 L843.0,313.6 L844.8,314.2 L846.5,314.7 L848.3,315.2 L850.1,315.7 L851.9,316.2 L853.7,316.7 L855.4,317.1 L857.2,317.5 L859.0,317.9 L860.8,318.2 L862.6,318.5 L864.3,318.8 L866.1,319.0 L867.9,319.2 L869.7,319.4 L871.5,319.5 L873.3,319.7 L875.0,319.9 L876.8,320.0 L878.6,320.2 L880.4,320.3 L882.2,320.5 L883.9,320.6 L885.7,320.8 L887.5,320.9 L889.3,321.1 L891.1,321.2 L892.8,321.3 L894.6,321.5 L896.4,321.6 L898.2,321.7 L900.0,321.8 L901.8,321.9 L903.5,322.0 L905.3,322.1 L907.1,322.2 L908.9,322.3 L910.7,322.4 L912.4,322.5 L914.2,322.6 L916.0,322.7 L917.8,322.7 L919.6,322.8 L921.3,322.9 L923.1,323.0 L924.9,323.1 L926.7,323.1 L928.5,323.2 L930.3,323.3 L932.0,323.3 L933.8,323.4 L935.6,323.5 L937.4,323.5 L939.2,323.6 L940.9,323.6 L942.7,323.7 L944.5,323.8 L946.3,323.8 L948.1,323.9 L949.8,323.9 L951.6,324.0 L953.4,324.0 L955.2,324.1 L957.0,324.1 L958.8,324.2 L960.5,324.2 L962.3,324.2 L964.1,324.3 L965.9,324.3 L967.7,324.3 L969.4,324.4 L971.2,324.4 L973.0,324.5 L974.8,324.5 L976.6,324.5 L978.3,324.6 L980.1,324.6 L981.9,324.6 L983.7,324.7 L985.5,324.7 L987.3,324.7 L989.0,324.8 L990.8,324.8 L992.6,324.8 L994.4,324.9 L996.2,324.9 L997.9,324.9 L999.7,325.0 L1001.5,325.0" stroke="#2ad62a"/>
<path d="M565.1,160.7 L566.9,148.2 L568.7,136.5 L570.4,125.6 L572.2,115.6 L574.0,106.6 L575.8,98.6 L577.6,91.8 L579.3,86.3 L581.1,82.0 L582.9,79.1 L584.7,77.8 L586.5,78.0 L588.3,79.7 L590.0,82.9 L591.8,87.3 L593.6,92.7 L595.4,99.0 L597.2,105.9 L598.9,113.3 L600.7,121.1 L602.5,129.0 L604.3,136.8 L606.1,144.4 L607.8,151.6 L609.6,158.2 L611.4,164.4 L613.2,170.1 L615.0,175.4 L616.8,180.3 L618.5,184.9 L620.3,189.3 L622.1,193.4 L623.9,197.3 L625.7,201.1 L627.4,204.7 L629.2,208.1 L631.0,211.2 L632.8,214.1 L634.6,216.6 L636.3,218.8 L638.1,220.6 L639.9,221.9 L641.7,222.9 L643.5,223.3 L645.3,223.3 L647.0,222.6 L648.8,221.5 L650.6,219.8 L652.4,217.6 L654.2,215.0 L655.9,211.9 L657.7,208.4 L659.5,204.4 L661.3,200.1 L663.1,195.3 L664.8,190.3 L666.6,184.9 L668.4,179.2 L670.2,173.2 L672.0,167.0 L673.8,160.5 L675.5,153.7 L677.3,146.8 L679.1,139.8 L680.9,132.8 L682.7,126.0 L684.4,119.3 L686.2,113.1 L688.0,107.2 L689.8,102.0 L691.6,97.4 L693.3,93.5 L695.1,90.6 L696.9,88.7 L698.7,87.9 L700.5,88.2 L702.3,89.4 L704.0,91.5 L705.8,94.5 L707.6,98.2 L709.4,102.6 L711.2,107.5 L712.9,113.0 L714.7,118.9 L716.5,125.1 L718.3,131.6 L720.1,138.3 L721.8,145.1 L723.6,152.0 L725.4,158.7 L727.2,165.5 L729.0,172.1 L730.8,178.6 L732.5,184.9 L734.3,191.1 L736.1,197.1 L737.9,202.9 L739.7,208.4 L741.4,213.7 L743.2,218.7 L745.0,223.5 L746.8,228.1 L748.6,232.4 L750.3,236.5 L752.1,240.4 L753.9,244.1 L755.7,247.7 L757.5,251.0 L759.3,254.2 L761.0,257.1 L762.8,260.0 L764.6,262.6 L766.4,265.2 L768.2,267.5 L769.9,269.8 L771.7,271.9 L773.5,273.9 L775.3,275.8 L777.1,277.6 L778.8,279.3 L780.6,281.0 L782.4,282.5 L784.2,284.0 L786.0,285.4 L787.8,286.7 L789.5,288.0 L791.3,289.3 L793.1,290.5 L794.9,291.7 L796.7,292.9 L798.4,294.0 L800.2,295.1 L802.0,296.2 L803.8,297.2 L805.6,298.2 L807.3,299.2 L809.1,300.2 L810.9,301.1 L812.7,302.0 L814.5,302.8 L816.3,303.7 L818.0,304.5 L819.8,305.2 L821.6,306.0 L823.4,306.7 L825.2,307.3 L826.9,308.0 L828.7,308.6 L830.5,309.2 L832.3,309.8 L834.1,310.4 L835.8,311.0 L837.6,311.6 L839.4,312.2 L841.2,312.7 L843.0,313.3 L844.8,313.8 L846.5,314.4 L848.3,314.9 L850.1,315.4 L851.9,315.9 L853.7,316.4 L855.4,316.9 L857.2,317.3 L859.0,317.7 L860.8,318.1 L862.6,318.4 L864.3,318.7 L866.1,318.9 L867.9,319.1 L869.7,319.3 L871.5,319.4 L873.3,319.6 L875.0,319.8 L876.8,319.9 L878.6,320.1 L880.4,320.3 L882.2,320.4 L883.9,320.6 L885.7,320.7 L887.5,320.9 L889.3,321.0 L891.1,321.1 L892.8,321.3 L894.6,321.4 L896.4,321.5 L898.2,321.6 L900.0,321.8 L901.8,321.9 L903.5,322.0 L905.3,322.1 L907.1,322.2 L908.9,322.3 L910.7,322.4 L912.4,322.4 L914.2,322.5 L916.0,322.6 L917.8,322.7 L919.6,322.8 L921.3,322.8 L923.1,322.9 L924.9,323.0 L926.7,323.1 L928.5,323.1 L930.3,323.2 L932.0,323.3 L933.8,323.3 L935.6,323.4 L937.4,323.5 L939.2,323.5 L940.9,323.6 L942.7,323.7 L944.5,323.7 L946.3,323.8 L948.1,323.8 L949.8,323.9 L951.6,324.0 L953.4,324.0 L955.2,324.1 L957.0,324.1 L958.8,324.2 L960.5,324.2 L962.3,324.2 L964.1,324.3 L965.9,324.3 L967.7,324.4 L969.4,324.4 L971.2,324.4 L973.0,324.5 L974.8,324.5 L976.6,324.5 L978.3,324.6 L980.1,324.6 L981.9,324.6 L983.7,324.7 L985.5,324.7 L987.3,324.7 L989.0,324.8 L990.8,324.8 L992.6,324.8 L994.4,324.9 L996.2,324.9 L997.9,324.9 L999.7,325.0 L1001.5,325.0" stroke="#eeee2a"/>
<path d="M565.1,154.0 L566.9,141.6 L568.7,130.3 L570.4,120.2 L572.2,111.2 L574.0,103.2 L575.8,96.4 L577.6,90.8 L579.3,86.2 L581.1,82.7 L582.9,80.4 L584.7,79.2 L586.5,79.1 L588.3,80.2 L590.0,82.3 L591.8,85.4 L593.6,89.3 L595.4,94.0 L597.2,99.3 L598.9,105.2 L600.7,111.6 L602.5,118.2 L604.3,125.1 L606.1,132.1 L607.8,139.1 L609.6,146.0 L611.4,152.7 L613.2,159.2 L615.0,165.4 L616.8,171.3 L618.5,176.9 L620.3,182.2 L622.1,187.2 L623.9,191.9 L625.7,196.2 L627.4,200.2 L629.2,203.8 L631.0,207.0 L632.8,209.8 L634.6,212.2 L636.3,214.2 L638.1,215.8 L639.9,216.9 L641.7,217.6 L643.5,217.8 L645.3,217.5 L647.0,216.8 L648.8,215.5 L650.6,213.8 L652.4,211.6 L654.2,208.9 L655.9,205.8 L657.7,202.3 L659.5,198.3 L661.3,193.8 L663.1,189.0 L664.8,183.7 L666.6,178.0 L668.4,172.0 L670.2,165.5 L672.0,158.7 L673.8,151.5 L675.5,144.0 L677.3,136.2 L679.1,128.3 L680.9,120.5 L682.7,112.8 L684.4,105.3 L686.2,98.2 L688.0,91.5 L689.8,85.5 L691.6,80.1 L693.3,75.6 L695.1,72.0 L696.9,69.4 L698.7,68.1 L700.5,67.9 L702.3,68.9 L704.0,70.9 L705.8,73.9 L707.6,77.8 L709.4,82.4 L711.2,87.7 L712.9,93.6 L714.7,100.0 L716.5,106.7 L718.3,113.8 L720.1,121.1 L721.8,128.5 L723.6,136.0 L725.4,143.3 L727.2,150.5 L729.0,157.5 L730.8,164.2 L732.5,170.7 L734.3,176.9 L736.1,183.0 L737.9,188.8 L739.7,194.5 L741.4,200.1 L743.2,205.5 L745.0,210.7 L746.8,215.8 L748.6,220.8 L750.3,225.6 L752.1,230.3 L753.9,234.7 L755.7,239.0 L757.5,243.2 L759.3,247.1 L761.0,250.8 L762.8,254.3 L764.6,257.6 L766.4,260.7 L768.2,263.6 L769.9,266.2 L771.7,268.7 L773.5,270.9 L775.3,273.0 L777.1,275.0 L778.8,276.8 L780.6,278.5 L782.4,280.1 L784.2,281.6 L786.0,283.0 L787.8,284.4 L789.5,285.7 L791.3,286.9 L793.1,288.1 L794.9,289.3 L796.7,290.5 L798.4,291.7 L800.2,292.8 L802.0,293.9 L803.8,294.9 L805.6,295.9 L807.3,296.9 L809.1,297.9 L810.9,298.9 L812.7,299.8 L814.5,300.7 L816.3,301.6 L818.0,302.5 L819.8,303.3 L821.6,304.1 L823.4,304.9 L825.2,305.6 L826.9,306.3 L828.7,307.0 L830.5,307.7 L832.3,308.4 L834.1,309.1 L835.8,309.8 L837.6,310.4 L839.4,311.1 L841.2,311.7 L843.0,312.4 L844.8,313.0 L846.5,313.6 L848.3,314.2 L850.1,314.8 L851.9,315.4 L853.7,315.9 L855.4,316.4 L857.2,316.9 L859.0,317.4 L860.8,317.8 L862.6,318.1 L864.3,318.4 L866.1,318.7 L867.9,318.9 L869.7,319.0 L871.5,319.2 L873.3,319.4 L875.0,319.6 L876.8,319.8 L878.6,319.9 L880.4,320.1 L882.2,320.3 L883.9,320.4 L885.7,320.6 L887.5,320.7 L889.3,320.9 L891.1,321.0 L892.8,321.1 L894.6,321.3 L896.4,321.4 L898.2,321.5 L900.0,321.6 L901.8,321.8 L903.5,321.9 L905.3,322.0 L907.1,322.1 L908.9,322.2 L910.7,322.2 L912.4,322.3 L914.2,322.4 L916.0,322.5 L917.8,322.6 L919.6,322.6 L921.3,322.7 L923.1,322.8 L924.9,322.9 L926.7,322.9 L928.5,323.0 L930.3,323.1 L932.0,323.2 L933.8,323.2 L935.6,323.3 L937.4,323.4 L939.2,323.4 L940.9,323.5 L942.7,323.6 L944.5,323.7 L946.3,323.7 L948.1,323.8 L949.8,323.9 L951.6,323.9 L953.4,324.0 L955.2,324.1 L957.0,324.1 L958.8,324.2 L960.5,324.2 L962.3,324.2 L964.1,324.3 L965.9,324.3 L967.7,324.4 L969.4,324.4 L971.2,324.4 L973.0,324.5 L974.8,324.5 L976.6,324.5 L978.3,324.6 L980.1,324.6 L981.9,324.6 L983.7,324.7 L985.5,324.7 L987.3,324.7 L989.0,324.8 L990.8,324.8 L992.6,324.8 L994.4,324.9 L996.2,324.9 L997.9,324.9 L999.7,325.0 L1001.5,325.0" stroke="#1a1aa0"/>
<path d="M565.1,178.5 L566.9,168.3 L568.7,158.6 L570.4,149.7 L572.2,141.4 L574.0,134.0 L575.8,127.4 L577.6,121.8 L579.3,117.1 L581.1,113.5 L582.9,111.0 L584.7,109.7 L586.5,109.6 L588.3,110.7 L590.0,113.0 L591.8,116.3 L593.6,120.3 L595.4,125.1 L597.2,130.4 L598.9,136.1 L600.7,142.0 L602.5,148.0 L604.3,154.0 L606.1,159.9 L607.8,165.7 L609.6,171.4 L611.4,177.0 L613.2,182.3 L615.0,187.5 L616.8,192.5 L618.5,197.2 L620.3,201.7 L622.1,206.0 L623.9,209.9 L625.7,213.6 L627.4,216.9 L629.2,219.9 L631.0,222.5 L632.8,224.7 L634.6,226.5 L636.3,227.9 L638.1,228.9 L639.9,229.4 L641.7,229.4 L643.5,228.9 L645.3,227.9 L647.0,226.3 L648.8,224.2 L650.6,221.6 L652.4,218.5 L654.2,215.0 L655.9,210.9 L657.7,206.4 L659.5,201.6 L661.3,196.3 L663.1,190.6 L664.8,184.6 L666.6,178.2 L668.4,171.5 L670.2,164.4 L672.0,157.1 L673.8,149.5 L675.5,141.7 L677.3,133.8 L679.1,125.8 L680.9,118.0 L682.7,110.3 L684.4,103.0 L686.2,96.0 L688.0,89.6 L689.8,83.8 L691.6,78.7 L693.3,74.4 L695.1,71.1 L696.9,68.8 L698.7,67.7 L700.5,67.8 L702.3,69.0 L704.0,71.2 L705.8,74.4 L707.6,78.4 L709.4,83.1 L711.2,88.5 L712.9,94.5 L714.7,100.9 L716.5,107.7 L718.3,114.8 L720.1,122.0 L721.8,129.4 L723.6,136.8 L725.4,144.0 L727.2,151.1 L729.0,157.9 L730.8,164.4 L732.5,170.7 L734.3,176.8 L736.1,182.7 L737.9,188.3 L739.7,193.9 L741.4,199.3 L743.2,204.6 L745.0,209.8 L746.8,214.9 L748.6,219.9 L750.3,224.8 L752.1,229.5 L753.9,234.1 L755.7,238.5 L757.5,242.8 L759.3,246.8 L761.0,250.7 L762.8,254.3 L764.6,257.7 L766.4,260.9 L768.2,263.8 L769.9,266.5 L771.7,269.0 L773.5,271.3 L775.3,273.4 L777.1,275.4 L778.8,277.2 L780.6,278.8 L782.4,280.4 L784.2,281.9 L786.0,283.2 L787.8,284.5 L789.5,285.8 L791.3,287.0 L793.1,288.2 L794.9,289.4 L796.7,290.5 L798.4,291.6 L800.2,292.7 L802.0,293.8 L803.8,294.8 L805.6,295.8 L807.3,296.8 L809.1,297.8 L810.9,298.7 L812.7,299.6 L814.5,300.5 L816.3,301.4 L818.0,302.3 L819.8,303.1 L821.6,303.9 L823.4,304.7 L825.2,305.5 L826.9,306.2 L828.7,306.9 L830.5,307.6 L832.3,308.3 L834.1,309.0 L835.8,309.7 L837.6,310.3 L839.4,311.0 L841.2,311.6 L843.0,312.3 L844.8,312.9 L846.5,313.6 L848.3,314.2 L850.1,314.8 L851.9,315.3 L853.7,315.9 L855.4,316.4 L857.2,316.9 L859.0,317.4 L860.8,317.8 L862.6,318.1 L864.3,318.4 L866.1,318.7 L867.9,318.9 L869.7,319.0 L871.5,319.2 L873.3,319.4 L875.0,319.6 L876.8,319.8 L878.6,319.9 L880.4,320.1 L882.2,320.3 L883.9,320.4 L885.7,320.6 L887.5,320.7 L889.3,320.9 L891.1,321.0 L892.8,321.1 L894.6,321.3 L896.4,321.4 L898.2,321.5 L900.0,321.6 L901.8,321.8 L903.5,321.9 L905.3,322.0 L907.1,322.1 L908.9,322.2 L910.7,322.2 L912.4,322.3 L914.2,322.4 L916.0,322.5 L917.8,322.6 L919.6,322.6 L921.3,322.7 L923.1,322.8 L924.9,322.9 L926.7,322.9 L928.5,323.0 L930.3,323.1 L932.0,323.1 L933.8,323.2 L935.6,323.3 L937.4,323.4 L939.2,323.4 L940.9,323.5 L942.7,323.6 L944.5,323.7 L946.3,323.7 L948.1,323.8 L949.8,323.9 L951.6,323.9 L953.4,324.0 L955.2,324.1 L957.0,324.1 L958.8,324.2 L960.5,324.2 L962.3,324.2 L964.1,324.3 L965.9,324.3 L967.7,324.4 L969.4,324.4 L971.2,324.4 L973.0,324.5 L974.8,324.5 L976.6,324.5 L978.3,324.6 L980.1,324.6 L981.9,324.6 L983.7,324.7 L985.5,324.7 L987.3,324.7 L989.0,324.8 L990.8,324.8 L992.6,324.8 L994.4,324.9 L996.2,324.9 L997.9,324.9 L999.7,325.0 L1001.5,325.0" stroke="#d024d0"/>
</g>
<rect x="565.1" y="13.3" width="436.4" height="317.3" fill="none" stroke="#4a4a4a" stroke-width="1.3"/>
<line x1="560.1" y1="325.9" x2="565.1" y2="325.9" stroke="#4a4a4a" stroke-width="1.3"/>
<text x="554.5" y="330.3" text-anchor="end" font-size="12.3" fill="#3a3a3a">0</text>
<line x1="560.1" y1="281.2" x2="565.1" y2="281.2" stroke="#4a4a4a" stroke-width="1.3"/>
<text x="554.5" y="285.6" text-anchor="end" font-size="12.3" fill="#3a3a3a">10</text>
<line x1="560.1" y1="236.6" x2="565.1" y2="236.6" stroke="#4a4a4a" stroke-width="1.3"/>
<text x="554.5" y="241.0" text-anchor="end" font-size="12.3" fill="#3a3a3a">20</text>
<line x1="560.1" y1="191.9" x2="565.1" y2="191.9" stroke="#4a4a4a" stroke-width="1.3"/>
<text x="554.5" y="196.3" text-anchor="end" font-size="12.3" fill="#3a3a3a">30</text>
<line x1="560.1" y1="147.3" x2="565.1" y2="147.3" stroke="#4a4a4a" stroke-width="1.3"/>
<text x="554.5" y="151.7" text-anchor="end" font-size="12.3" fill="#3a3a3a">40</text>
<line x1="560.1" y1="102.6" x2="565.1" y2="102.6" stroke="#4a4a4a" stroke-width="1.3"/>
<text x="554.5" y="107.0" text-anchor="end" font-size="12.3" fill="#3a3a3a">50</text>
<line x1="560.1" y1="58.0" x2="565.1" y2="58.0" stroke="#4a4a4a" stroke-width="1.3"/>
<text x="554.5" y="62.4" text-anchor="end" font-size="12.3" fill="#3a3a3a">60</text>
<line x1="560.1" y1="13.3" x2="565.1" y2="13.3" stroke="#4a4a4a" stroke-width="1.3"/>
<text x="554.5" y="17.7" text-anchor="end" font-size="12.3" fill="#3a3a3a">70</text>
<line x1="645.3" y1="330.6" x2="645.3" y2="335.6" stroke="#4a4a4a" stroke-width="1.3"/>
<text x="645.3" y="352" text-anchor="middle" font-size="12.3" fill="#3a3a3a">550</text>
<line x1="734.3" y1="330.6" x2="734.3" y2="335.6" stroke="#4a4a4a" stroke-width="1.3"/>
<text x="734.3" y="352" text-anchor="middle" font-size="12.3" fill="#3a3a3a">600</text>
<line x1="823.4" y1="330.6" x2="823.4" y2="335.6" stroke="#4a4a4a" stroke-width="1.3"/>
<text x="823.4" y="352" text-anchor="middle" font-size="12.3" fill="#3a3a3a">650</text>
<line x1="912.4" y1="330.6" x2="912.4" y2="335.6" stroke="#4a4a4a" stroke-width="1.3"/>
<text x="912.4" y="352" text-anchor="middle" font-size="12.3" fill="#3a3a3a">700</text>
<line x1="1001.5" y1="330.6" x2="1001.5" y2="335.6" stroke="#4a4a4a" stroke-width="1.3"/>
<text x="1001.5" y="352" text-anchor="middle" font-size="12.3" fill="#3a3a3a">750</text>
<text x="727.5" y="378.7" font-size="14.85" fill="#222">Wavelength (nm)</text>
<text transform="translate(528,173) rotate(-90)" text-anchor="middle" font-size="14.4" fill="#222">Fluorescence</text>
<text x="578" y="43.9" class="serif" font-weight="bold" font-size="23" fill="#000">B</text>
<text x="587.8" y="68.3" font-size="19.5" fill="#000" stroke="#000" stroke-width="0.6">Na</text>
<text x="612.8" y="61.8" font-size="13" fill="#000" stroke="#000" stroke-width="0.5">+</text>
<text x="624.8" y="68.3" font-size="19.5" fill="#000" stroke="#000" stroke-width="0.6">0</text>
<text x="641.3" y="68.3" font-size="19.5" fill="#000" stroke="#000" stroke-width="0.6">mM</text>
<text x="578.75" y="253.9" font-size="19.5" fill="#000" stroke="#000" stroke-width="0.6">100</text>
<text x="615.75" y="253.9" font-size="19.5" fill="#000" stroke="#000" stroke-width="0.6">mM</text>
<line x1="584.6" y1="80.5" x2="584.6" y2="209.3" stroke="#000" stroke-width="1.6"/>
<path d="M578.4,198.8 L584.6,209.3 L590.8000000000001,198.8" fill="none" stroke="#000" stroke-width="1.6"/>
<line x1="885.9" y1="33.6" x2="904.3" y2="33.6" stroke="#000000" stroke-width="1.7"/>
<text x="921" y="38.2" font-size="12.6" letter-spacing="-0.2" fill="#3a3a3a">0 mM Na<tspan dy="-4.5" font-size="8.5">+</tspan></text>
<line x1="885.9" y1="50.8" x2="904.3" y2="50.8" stroke="#c81e1e" stroke-width="1.7"/>
<text x="921" y="55.4" font-size="12.6" letter-spacing="-0.2" fill="#3a3a3a">1 mM Na<tspan dy="-4.5" font-size="8.5">+</tspan></text>
<line x1="885.9" y1="68.0" x2="904.3" y2="68.0" stroke="#2ad62a" stroke-width="1.7"/>
<text x="921" y="72.6" font-size="12.6" letter-spacing="-0.2" fill="#3a3a3a">5 mM Na<tspan dy="-4.5" font-size="8.5">+</tspan></text>
<line x1="885.9" y1="85.2" x2="904.3" y2="85.2" stroke="#eeee2a" stroke-width="1.7"/>
<text x="921" y="89.8" font-size="12.6" letter-spacing="-0.2" fill="#3a3a3a">10 mM Na<tspan dy="-4.5" font-size="8.5">+</tspan></text>
<line x1="885.9" y1="102.4" x2="904.3" y2="102.4" stroke="#1a1aa0" stroke-width="1.7"/>
<text x="921" y="107.0" font-size="12.6" letter-spacing="-0.2" fill="#3a3a3a">50 mM Na<tspan dy="-4.5" font-size="8.5">+</tspan></text>
<line x1="885.9" y1="119.6" x2="904.3" y2="119.6" stroke="#d024d0" stroke-width="1.7"/>
<text x="921" y="124.2" font-size="12.6" letter-spacing="-0.2" fill="#3a3a3a">100 mM Na<tspan dy="-4.5" font-size="8.5">+</tspan></text>
<g fill="none" stroke-width="1.4" stroke-linejoin="round" clip-path="url(#clipC)">
<path d="M56.5,604.5 L58.3,595.1 L60.0,585.4 L61.8,575.4 L63.5,565.3 L65.3,555.0 L67.0,544.7 L68.8,534.4 L70.5,524.3 L72.3,514.3 L74.1,504.5 L75.8,495.0 L77.6,486.1 L79.3,477.7 L81.1,470.1 L82.8,463.4 L84.6,457.7 L86.4,453.2 L88.1,450.0 L89.9,448.3 L91.6,448.0 L93.4,449.1 L95.1,451.4 L96.9,454.8 L98.6,459.1 L100.4,464.3 L102.2,470.2 L103.9,476.8 L105.7,483.8 L107.4,491.2 L109.2,498.9 L110.9,506.7 L112.7,514.5 L114.4,522.3 L116.2,529.9 L118.0,537.2 L119.7,544.3 L121.5,551.0 L123.2,557.2 L125.0,562.9 L126.7,568.1 L128.5,572.6 L130.2,576.6 L132.0,580.0 L133.8,583.0 L135.5,585.6 L137.3,587.8 L139.0,589.7 L140.8,591.2 L142.5,592.5 L144.3,593.7 L146.1,594.6 L147.8,595.4 L149.6,596.0 L151.3,596.5 L153.1,596.9 L154.8,597.1 L156.6,597.2 L158.3,597.3 L160.1,597.3 L161.9,597.2 L163.6,597.0 L165.4,596.8 L167.1,596.5 L168.9,596.3 L170.6,596.0 L172.4,595.7 L174.1,595.5 L175.9,595.2 L177.7,595.0 L179.4,594.8 L181.2,594.7 L182.9,594.7 L184.7,594.7 L186.4,594.9 L188.2,595.1 L189.9,595.5 L191.7,596.0 L193.5,596.6 L195.2,597.4 L197.0,598.3 L198.7,599.4 L200.5,600.7 L202.2,602.2 L204.0,603.8 L205.8,605.6 L207.5,607.5 L209.3,609.5 L211.0,611.6 L212.8,613.9 L214.5,616.1 L216.3,618.5 L218.0,620.9 L219.8,623.3 L221.6,625.8 L223.3,628.2 L225.1,630.7 L226.8,633.1 L228.6,635.5 L230.3,637.9 L232.1,640.2 L233.8,642.4 L235.6,644.6 L237.4,646.7 L239.1,648.8 L240.9,650.8 L242.6,652.8 L244.4,654.7 L246.1,656.6 L247.9,658.4 L249.7,660.2 L251.4,661.9 L253.2,663.5 L254.9,665.2 L256.7,666.7 L258.4,668.2 L260.2,669.7 L261.9,671.2 L263.7,672.5 L265.5,673.9 L267.2,675.2 L269.0,676.5 L270.7,677.7 L272.5,678.9 L274.2,680.0 L276.0,681.1 L277.7,682.2 L279.5,683.2 L281.3,684.2 L283.0,685.1 L284.8,686.1 L286.5,687.0 L288.3,687.8 L290.0,688.6 L291.8,689.4 L293.5,690.2 L295.3,690.9 L297.1,691.6 L298.8,692.3 L300.6,692.9 L302.3,693.6 L304.1,694.1 L305.8,694.6 L307.6,695.1 L309.4,695.6 L311.1,696.1 L312.9,696.5 L314.6,696.9 L316.4,697.3 L318.1,697.6 L319.9,698.0 L321.6,698.3 L323.4,698.6 L325.2,699.0 L326.9,699.3 L328.7,699.6 L330.4,699.9 L332.2,700.2 L333.9,700.5 L335.7,700.8 L337.4,701.1 L339.2,701.5 L341.0,701.8 L342.7,702.1 L344.5,702.4 L346.2,702.6 L348.0,702.9 L349.7,703.2 L351.5,703.4 L353.3,703.7 L355.0,703.9 L356.8,704.1 L358.5,704.3 L360.3,704.5 L362.0,704.7 L363.8,704.9 L365.5,705.1 L367.3,705.3 L369.1,705.5 L370.8,705.7 L372.6,705.9 L374.3,706.0 L376.1,706.2 L377.8,706.4 L379.6,706.6 L381.3,706.7 L383.1,706.9 L384.9,707.0 L386.6,707.2 L388.4,707.3 L390.1,707.4 L391.9,707.6 L393.6,707.7 L395.4,707.8 L397.1,707.9 L398.9,707.9 L400.7,708.0 L402.4,708.1 L404.2,708.1 L405.9,708.2 L407.7,708.3 L409.4,708.3 L411.2,708.4 L413.0,708.4 L414.7,708.5 L416.5,708.5 L418.2,708.6 L420.0,708.6 L421.7,708.7 L423.5,708.7 L425.2,708.7 L427.0,708.8 L428.8,708.8 L430.5,708.9 L432.3,708.9 L434.0,709.0 L435.8,709.0 L437.5,709.0 L439.3,709.1 L441.0,709.1 L442.8,709.1 L444.6,709.2 L446.3,709.2 L448.1,709.2 L449.8,709.3 L451.6,709.3 L453.3,709.3 L455.1,709.3 L456.8,709.4 L458.6,709.4 L460.4,709.4 L462.1,709.4 L463.9,709.5 L465.6,709.5 L467.4,709.5 L469.1,709.5 L470.9,709.5 L472.7,709.6 L474.4,709.6 L476.2,709.6 L477.9,709.6 L479.7,709.6 L481.4,709.6 L483.2,709.7 L484.9,709.7 L486.7,709.7" stroke="#000000"/>
<path d="M56.5,617.8 L58.3,611.7 L60.0,604.9 L61.8,597.4 L63.5,589.4 L65.3,581.0 L67.0,572.3 L68.8,563.5 L70.5,554.6 L72.3,545.7 L74.1,537.1 L75.8,528.7 L77.6,520.8 L79.3,513.4 L81.1,506.6 L82.8,500.6 L84.6,495.5 L86.4,491.3 L88.1,488.3 L89.9,486.5 L91.6,486.0 L93.4,486.8 L95.1,488.8 L96.9,491.9 L98.6,495.8 L100.4,500.5 L102.2,505.8 L103.9,511.6 L105.7,517.7 L107.4,523.9 L109.2,530.2 L110.9,536.4 L112.7,542.4 L114.4,548.2 L116.2,553.9 L118.0,559.3 L119.7,564.5 L121.5,569.4 L123.2,573.9 L125.0,578.1 L126.7,582.0 L128.5,585.4 L130.2,588.5 L132.0,591.2 L133.8,593.6 L135.5,595.6 L137.3,597.3 L139.0,598.7 L140.8,599.8 L142.5,600.7 L144.3,601.3 L146.1,601.7 L147.8,601.9 L149.6,601.9 L151.3,601.7 L153.1,601.3 L154.8,600.8 L156.6,600.2 L158.3,599.5 L160.1,598.6 L161.9,597.7 L163.6,596.8 L165.4,595.8 L167.1,594.7 L168.9,593.7 L170.6,592.7 L172.4,591.7 L174.1,590.7 L175.9,589.8 L177.7,589.0 L179.4,588.3 L181.2,587.7 L182.9,587.2 L184.7,586.9 L186.4,586.7 L188.2,586.7 L189.9,586.9 L191.7,587.4 L193.5,588.0 L195.2,588.8 L197.0,589.8 L198.7,591.0 L200.5,592.3 L202.2,593.8 L204.0,595.5 L205.8,597.2 L207.5,599.1 L209.3,601.0 L211.0,603.1 L212.8,605.2 L214.5,607.5 L216.3,609.7 L218.0,612.0 L219.8,614.4 L221.6,616.8 L223.3,619.2 L225.1,621.6 L226.8,624.0 L228.6,626.5 L230.3,629.0 L232.1,631.4 L233.8,633.9 L235.6,636.3 L237.4,638.8 L239.1,641.2 L240.9,643.5 L242.6,645.9 L244.4,648.2 L246.1,650.4 L247.9,652.7 L249.7,654.8 L251.4,656.9 L253.2,658.9 L254.9,660.9 L256.7,662.7 L258.4,664.5 L260.2,666.2 L261.9,667.9 L263.7,669.4 L265.5,670.9 L267.2,672.3 L269.0,673.6 L270.7,674.8 L272.5,676.1 L274.2,677.2 L276.0,678.3 L277.7,679.4 L279.5,680.4 L281.3,681.4 L283.0,682.4 L284.8,683.3 L286.5,684.2 L288.3,685.1 L290.0,686.0 L291.8,686.8 L293.5,687.6 L295.3,688.4 L297.1,689.1 L298.8,689.9 L300.6,690.6 L302.3,691.3 L304.1,691.9 L305.8,692.6 L307.6,693.2 L309.4,693.8 L311.1,694.3 L312.9,694.9 L314.6,695.4 L316.4,695.8 L318.1,696.3 L319.9,696.8 L321.6,697.2 L323.4,697.6 L325.2,698.0 L326.9,698.4 L328.7,698.8 L330.4,699.2 L332.2,699.6 L333.9,700.0 L335.7,700.3 L337.4,700.7 L339.2,701.0 L341.0,701.4 L342.7,701.7 L344.5,702.0 L346.2,702.3 L348.0,702.6 L349.7,702.9 L351.5,703.2 L353.3,703.4 L355.0,703.7 L356.8,703.9 L358.5,704.1 L360.3,704.3 L362.0,704.5 L363.8,704.7 L365.5,704.9 L367.3,705.1 L369.1,705.3 L370.8,705.5 L372.6,705.7 L374.3,705.9 L376.1,706.1 L377.8,706.3 L379.6,706.5 L381.3,706.7 L383.1,706.8 L384.9,707.0 L386.6,707.1 L388.4,707.3 L390.1,707.4 L391.9,707.5 L393.6,707.7 L395.4,707.8 L397.1,707.9 L398.9,707.9 L400.7,708.0 L402.4,708.1 L404.2,708.1 L405.9,708.2 L407.7,708.3 L409.4,708.3 L411.2,708.4 L413.0,708.4 L414.7,708.5 L416.5,708.5 L418.2,708.6 L420.0,708.6 L421.7,708.7 L423.5,708.7 L425.2,708.7 L427.0,708.8 L428.8,708.8 L430.5,708.9 L432.3,708.9 L434.0,709.0 L435.8,709.0 L437.5,709.0 L439.3,709.1 L441.0,709.1 L442.8,709.1 L444.6,709.2 L446.3,709.2 L448.1,709.2 L449.8,709.3 L451.6,709.3 L453.3,709.3 L455.1,709.3 L456.8,709.4 L458.6,709.4 L460.4,709.4 L462.1,709.4 L463.9,709.5 L465.6,709.5 L467.4,709.5 L469.1,709.5 L470.9,709.5 L472.7,709.6 L474.4,709.6 L476.2,709.6 L477.9,709.6 L479.7,709.6 L481.4,709.6 L483.2,709.7 L484.9,709.7 L486.7,709.7" stroke="#c81e1e"/>
<path d="M56.5,617.8 L58.3,612.2 L60.0,605.9 L61.8,599.1 L63.5,591.9 L65.3,584.4 L67.0,576.7 L68.8,568.9 L70.5,561.0 L72.3,553.3 L74.1,545.7 L75.8,538.4 L77.6,531.5 L79.3,525.1 L81.1,519.2 L82.8,514.0 L84.6,509.6 L86.4,506.0 L88.1,503.4 L89.9,501.9 L91.6,501.5 L93.4,502.2 L95.1,504.0 L96.9,506.6 L98.6,510.1 L100.4,514.2 L102.2,518.8 L103.9,523.8 L105.7,529.1 L107.4,534.6 L109.2,540.1 L110.9,545.5 L112.7,550.9 L114.4,556.0 L116.2,561.0 L118.0,565.9 L119.7,570.5 L121.5,574.9 L123.2,578.9 L125.0,582.7 L126.7,586.2 L128.5,589.4 L130.2,592.2 L132.0,594.6 L133.8,596.8 L135.5,598.6 L137.3,600.2 L139.0,601.5 L140.8,602.5 L142.5,603.3 L144.3,603.8 L146.1,604.0 L147.8,604.1 L149.6,603.9 L151.3,603.5 L153.1,602.9 L154.8,602.2 L156.6,601.2 L158.3,600.1 L160.1,598.9 L161.9,597.5 L163.6,596.0 L165.4,594.4 L167.1,592.7 L168.9,590.9 L170.6,589.0 L172.4,587.0 L174.1,585.0 L175.9,583.0 L177.7,581.1 L179.4,579.2 L181.2,577.5 L182.9,575.9 L184.7,574.6 L186.4,573.4 L188.2,572.6 L189.9,572.1 L191.7,572.0 L193.5,572.3 L195.2,572.9 L197.0,574.0 L198.7,575.4 L200.5,577.1 L202.2,579.1 L204.0,581.4 L205.8,583.8 L207.5,586.5 L209.3,589.3 L211.0,592.3 L212.8,595.3 L214.5,598.4 L216.3,601.5 L218.0,604.7 L219.8,607.8 L221.6,610.8 L223.3,613.8 L225.1,616.7 L226.8,619.5 L228.6,622.3 L230.3,624.9 L232.1,627.5 L233.8,630.1 L235.6,632.5 L237.4,634.9 L239.1,637.3 L240.9,639.6 L242.6,641.8 L244.4,643.9 L246.1,646.0 L247.9,648.1 L249.7,650.1 L251.4,652.0 L253.2,653.9 L254.9,655.7 L256.7,657.5 L258.4,659.2 L260.2,660.9 L261.9,662.5 L263.7,664.1 L265.5,665.7 L267.2,667.2 L269.0,668.6 L270.7,670.1 L272.5,671.4 L274.2,672.8 L276.0,674.1 L277.7,675.4 L279.5,676.6 L281.3,677.8 L283.0,678.9 L284.8,680.1 L286.5,681.1 L288.3,682.2 L290.0,683.2 L291.8,684.2 L293.5,685.1 L295.3,686.1 L297.1,686.9 L298.8,687.8 L300.6,688.6 L302.3,689.4 L304.1,690.2 L305.8,690.9 L307.6,691.6 L309.4,692.2 L311.1,692.9 L312.9,693.4 L314.6,694.0 L316.4,694.5 L318.1,695.1 L319.9,695.6 L321.6,696.0 L323.4,696.5 L325.2,697.0 L326.9,697.4 L328.7,697.9 L330.4,698.3 L332.2,698.8 L333.9,699.2 L335.7,699.6 L337.4,700.0 L339.2,700.4 L341.0,700.8 L342.7,701.2 L344.5,701.6 L346.2,701.9 L348.0,702.3 L349.7,702.6 L351.5,702.9 L353.3,703.2 L355.0,703.5 L356.8,703.7 L358.5,704.0 L360.3,704.2 L362.0,704.4 L363.8,704.6 L365.5,704.8 L367.3,705.1 L369.1,705.3 L370.8,705.5 L372.6,705.7 L374.3,705.9 L376.1,706.1 L377.8,706.3 L379.6,706.5 L381.3,706.7 L383.1,706.8 L384.9,707.0 L386.6,707.1 L388.4,707.3 L390.1,707.4 L391.9,707.5 L393.6,707.7 L395.4,707.8 L397.1,707.9 L398.9,707.9 L400.7,708.0 L402.4,708.1 L404.2,708.1 L405.9,708.2 L407.7,708.3 L409.4,708.3 L411.2,708.4 L413.0,708.4 L414.7,708.5 L416.5,708.5 L418.2,708.6 L420.0,708.6 L421.7,708.7 L423.5,708.7 L425.2,708.7 L427.0,708.8 L428.8,708.8 L430.5,708.9 L432.3,708.9 L434.0,709.0 L435.8,709.0 L437.5,709.0 L439.3,709.1 L441.0,709.1 L442.8,709.1 L444.6,709.2 L446.3,709.2 L448.1,709.2 L449.8,709.3 L451.6,709.3 L453.3,709.3 L455.1,709.3 L456.8,709.4 L458.6,709.4 L460.4,709.4 L462.1,709.4 L463.9,709.5 L465.6,709.5 L467.4,709.5 L469.1,709.5 L470.9,709.5 L472.7,709.6 L474.4,709.6 L476.2,709.6 L477.9,709.6 L479.7,709.6 L481.4,709.6 L483.2,709.7 L484.9,709.7 L486.7,709.7" stroke="#2ad62a"/>
<path d="M56.5,617.8 L58.3,613.2 L60.0,608.1 L61.8,602.4 L63.5,596.5 L65.3,590.2 L67.0,583.8 L68.8,577.2 L70.5,570.7 L72.3,564.2 L74.1,557.8 L75.8,551.7 L77.6,545.9 L79.3,540.5 L81.1,535.6 L82.8,531.3 L84.6,527.7 L86.4,524.7 L88.1,522.7 L89.9,521.5 L91.6,521.4 L93.4,522.2 L95.1,524.0 L96.9,526.5 L98.6,529.6 L100.4,533.3 L102.2,537.5 L103.9,542.0 L105.7,546.7 L107.4,551.5 L109.2,556.3 L110.9,561.0 L112.7,565.5 L114.4,570.0 L116.2,574.2 L118.0,578.3 L119.7,582.2 L121.5,585.8 L123.2,589.2 L125.0,592.3 L126.7,595.2 L128.5,597.8 L130.2,600.0 L132.0,602.0 L133.8,603.7 L135.5,605.2 L137.3,606.3 L139.0,607.2 L140.8,607.9 L142.5,608.3 L144.3,608.4 L146.1,608.3 L147.8,608.0 L149.6,607.4 L151.3,606.6 L153.1,605.7 L154.8,604.5 L156.6,603.1 L158.3,601.6 L160.1,600.0 L161.9,598.2 L163.6,596.3 L165.4,594.2 L167.1,592.1 L168.9,589.9 L170.6,587.7 L172.4,585.4 L174.1,583.1 L175.9,580.8 L177.7,578.6 L179.4,576.5 L181.2,574.5 L182.9,572.7 L184.7,571.2 L186.4,569.9 L188.2,569.0 L189.9,568.4 L191.7,568.1 L193.5,568.3 L195.2,569.0 L197.0,570.0 L198.7,571.4 L200.5,573.2 L202.2,575.2 L204.0,577.5 L205.8,580.1 L207.5,582.9 L209.3,585.8 L211.0,588.9 L212.8,592.1 L214.5,595.3 L216.3,598.6 L218.0,601.9 L219.8,605.2 L221.6,608.4 L223.3,611.6 L225.1,614.6 L226.8,617.6 L228.6,620.5 L230.3,623.3 L232.1,626.0 L233.8,628.7 L235.6,631.3 L237.4,633.8 L239.1,636.2 L240.9,638.5 L242.6,640.8 L244.4,643.0 L246.1,645.2 L247.9,647.3 L249.7,649.3 L251.4,651.2 L253.2,653.1 L254.9,655.0 L256.7,656.8 L258.4,658.5 L260.2,660.2 L261.9,661.8 L263.7,663.4 L265.5,664.9 L267.2,666.4 L269.0,667.8 L270.7,669.2 L272.5,670.5 L274.2,671.8 L276.0,673.1 L277.7,674.3 L279.5,675.5 L281.3,676.7 L283.0,677.8 L284.8,678.9 L286.5,680.0 L288.3,681.0 L290.0,682.0 L291.8,683.0 L293.5,684.0 L295.3,684.9 L297.1,685.8 L298.8,686.7 L300.6,687.5 L302.3,688.3 L304.1,689.1 L305.8,689.9 L307.6,690.7 L309.4,691.4 L311.1,692.0 L312.9,692.7 L314.6,693.3 L316.4,693.9 L318.1,694.4 L319.9,695.0 L321.6,695.5 L323.4,696.1 L325.2,696.6 L326.9,697.1 L328.7,697.6 L330.4,698.0 L332.2,698.5 L333.9,699.0 L335.7,699.4 L337.4,699.9 L339.2,700.3 L341.0,700.7 L342.7,701.1 L344.5,701.5 L346.2,701.9 L348.0,702.3 L349.7,702.6 L351.5,702.9 L353.3,703.2 L355.0,703.5 L356.8,703.7 L358.5,704.0 L360.3,704.2 L362.0,704.4 L363.8,704.6 L365.5,704.9 L367.3,705.1 L369.1,705.3 L370.8,705.5 L372.6,705.7 L374.3,705.9 L376.1,706.1 L377.8,706.3 L379.6,706.5 L381.3,706.7 L383.1,706.8 L384.9,707.0 L386.6,707.2 L388.4,707.3 L390.1,707.4 L391.9,707.6 L393.6,707.7 L395.4,707.8 L397.1,707.9 L398.9,707.9 L400.7,708.0 L402.4,708.1 L404.2,708.1 L405.9,708.2 L407.7,708.3 L409.4,708.3 L411.2,708.4 L413.0,708.4 L414.7,708.5 L416.5,708.5 L418.2,708.6 L420.0,708.6 L421.7,708.7 L423.5,708.7 L425.2,708.7 L427.0,708.8 L428.8,708.8 L430.5,708.9 L432.3,708.9 L434.0,709.0 L435.8,709.0 L437.5,709.0 L439.3,709.1 L441.0,709.1 L442.8,709.1 L444.6,709.2 L446.3,709.2 L448.1,709.2 L449.8,709.3 L451.6,709.3 L453.3,709.3 L455.1,709.3 L456.8,709.4 L458.6,709.4 L460.4,709.4 L462.1,709.4 L463.9,709.5 L465.6,709.5 L467.4,709.5 L469.1,709.5 L470.9,709.5 L472.7,709.6 L474.4,709.6 L476.2,709.6 L477.9,709.6 L479.7,709.6 L481.4,709.6 L483.2,709.7 L484.9,709.7 L486.7,709.7" stroke="#eeee2a"/>
<path d="M56.5,622.8 L58.3,618.2 L60.0,613.0 L61.8,607.4 L63.5,601.5 L65.3,595.2 L67.0,588.8 L68.8,582.3 L70.5,575.8 L72.3,569.4 L74.1,563.1 L75.8,557.0 L77.6,551.3 L79.3,546.0 L81.1,541.2 L82.8,537.0 L84.6,533.4 L86.4,530.6 L88.1,528.6 L89.9,527.6 L91.6,527.6 L93.4,528.5 L95.1,530.3 L96.9,532.9 L98.6,536.1 L100.4,539.9 L102.2,544.1 L103.9,548.5 L105.7,553.1 L107.4,557.8 L109.2,562.4 L110.9,566.9 L112.7,571.2 L114.4,575.3 L116.2,579.2 L118.0,582.9 L119.7,586.4 L121.5,589.8 L123.2,592.9 L125.0,595.8 L126.7,598.4 L128.5,600.9 L130.2,603.1 L132.0,605.1 L133.8,606.8 L135.5,608.3 L137.3,609.5 L139.0,610.5 L140.8,611.1 L142.5,611.5 L144.3,611.6 L146.1,611.4 L147.8,610.9 L149.6,610.0 L151.3,608.9 L153.1,607.5 L154.8,605.9 L156.6,604.1 L158.3,602.1 L160.1,599.9 L161.9,597.6 L163.6,595.2 L165.4,592.7 L167.1,590.1 L168.9,587.4 L170.6,584.8 L172.4,582.1 L174.1,579.5 L175.9,576.9 L177.7,574.5 L179.4,572.2 L181.2,570.0 L182.9,568.1 L184.7,566.4 L186.4,565.0 L188.2,563.9 L189.9,563.1 L191.7,562.7 L193.5,562.7 L195.2,563.2 L197.0,564.2 L198.7,565.6 L200.5,567.3 L202.2,569.5 L204.0,572.0 L205.8,574.7 L207.5,577.8 L209.3,581.0 L211.0,584.4 L212.8,587.9 L214.5,591.5 L216.3,595.1 L218.0,598.8 L219.8,602.4 L221.6,606.0 L223.3,609.4 L225.1,612.7 L226.8,615.9 L228.6,619.0 L230.3,621.9 L232.1,624.7 L233.8,627.5 L235.6,630.1 L237.4,632.6 L239.1,635.0 L240.9,637.3 L242.6,639.5 L244.4,641.6 L246.1,643.7 L247.9,645.7 L249.7,647.6 L251.4,649.5 L253.2,651.3 L254.9,653.1 L256.7,654.8 L258.4,656.5 L260.2,658.2 L261.9,659.8 L263.7,661.4 L265.5,663.0 L267.2,664.6 L269.0,666.1 L270.7,667.7 L272.5,669.2 L274.2,670.6 L276.0,672.1 L277.7,673.5 L279.5,674.8 L281.3,676.1 L283.0,677.4 L284.8,678.7 L286.5,679.9 L288.3,681.0 L290.0,682.1 L291.8,683.2 L293.5,684.2 L295.3,685.2 L297.1,686.2 L298.8,687.1 L300.6,688.0 L302.3,688.9 L304.1,689.7 L305.8,690.4 L307.6,691.1 L309.4,691.8 L311.1,692.4 L312.9,693.0 L314.6,693.6 L316.4,694.2 L318.1,694.7 L319.9,695.2 L321.6,695.7 L323.4,696.2 L325.2,696.6 L326.9,697.1 L328.7,697.6 L330.4,698.0 L332.2,698.5 L333.9,698.9 L335.7,699.3 L337.4,699.8 L339.2,700.2 L341.0,700.6 L342.7,701.0 L344.5,701.4 L346.2,701.8 L348.0,702.2 L349.7,702.6 L351.5,702.9 L353.3,703.2 L355.0,703.5 L356.8,703.7 L358.5,704.0 L360.3,704.2 L362.0,704.4 L363.8,704.6 L365.5,704.9 L367.3,705.1 L369.1,705.3 L370.8,705.5 L372.6,705.7 L374.3,705.9 L376.1,706.1 L377.8,706.3 L379.6,706.5 L381.3,706.7 L383.1,706.8 L384.9,707.0 L386.6,707.2 L388.4,707.3 L390.1,707.4 L391.9,707.6 L393.6,707.7 L395.4,707.8 L397.1,707.9 L398.9,707.9 L400.7,708.0 L402.4,708.1 L404.2,708.1 L405.9,708.2 L407.7,708.2 L409.4,708.3 L411.2,708.4 L413.0,708.4 L414.7,708.5 L416.5,708.5 L418.2,708.6 L420.0,708.6 L421.7,708.7 L423.5,708.7 L425.2,708.7 L427.0,708.8 L428.8,708.8 L430.5,708.9 L432.3,708.9 L434.0,709.0 L435.8,709.0 L437.5,709.0 L439.3,709.1 L441.0,709.1 L442.8,709.1 L444.6,709.2 L446.3,709.2 L448.1,709.2 L449.8,709.3 L451.6,709.3 L453.3,709.3 L455.1,709.3 L456.8,709.4 L458.6,709.4 L460.4,709.4 L462.1,709.4 L463.9,709.5 L465.6,709.5 L467.4,709.5 L469.1,709.5 L470.9,709.5 L472.7,709.6 L474.4,709.6 L476.2,709.6 L477.9,709.6 L479.7,709.6 L481.4,709.6 L483.2,709.7 L484.9,709.7 L486.7,709.7" stroke="#1a1aa0"/>
<path d="M56.5,630.0 L58.3,624.6 L60.0,618.9 L61.8,613.0 L63.5,606.9 L65.3,600.7 L67.0,594.5 L68.8,588.3 L70.5,582.2 L72.3,576.3 L74.1,570.5 L75.8,565.1 L77.6,559.9 L79.3,555.1 L81.1,550.8 L82.8,547.0 L84.6,543.8 L86.4,541.2 L88.1,539.3 L89.9,538.2 L91.6,537.9 L93.4,538.2 L95.1,539.3 L96.9,540.9 L98.6,543.0 L100.4,545.6 L102.2,548.5 L103.9,551.7 L105.7,555.2 L107.4,558.9 L109.2,562.6 L110.9,566.4 L112.7,570.1 L114.4,573.8 L116.2,577.5 L118.0,581.1 L119.7,584.7 L121.5,588.1 L123.2,591.4 L125.0,594.6 L126.7,597.6 L128.5,600.4 L130.2,603.1 L132.0,605.5 L133.8,607.8 L135.5,609.8 L137.3,611.5 L139.0,613.0 L140.8,614.1 L142.5,615.0 L144.3,615.5 L146.1,615.7 L147.8,615.6 L149.6,615.1 L151.3,614.2 L153.1,613.1 L154.8,611.7 L156.6,610.0 L158.3,608.1 L160.1,605.9 L161.9,603.6 L163.6,601.1 L165.4,598.4 L167.1,595.5 L168.9,592.6 L170.6,589.6 L172.4,586.5 L174.1,583.5 L175.9,580.5 L177.7,577.6 L179.4,574.9 L181.2,572.3 L182.9,570.0 L184.7,567.9 L186.4,566.0 L188.2,564.5 L189.9,563.4 L191.7,562.7 L193.5,562.4 L195.2,562.6 L197.0,563.3 L198.7,564.6 L200.5,566.2 L202.2,568.3 L204.0,570.8 L205.8,573.5 L207.5,576.6 L209.3,579.9 L211.0,583.3 L212.8,587.0 L214.5,590.7 L216.3,594.5 L218.0,598.3 L219.8,602.0 L221.6,605.7 L223.3,609.3 L225.1,612.7 L226.8,615.9 L228.6,619.1 L230.3,622.1 L232.1,624.9 L233.8,627.7 L235.6,630.3 L237.4,632.8 L239.1,635.2 L240.9,637.5 L242.6,639.8 L244.4,641.9 L246.1,644.0 L247.9,645.9 L249.7,647.9 L251.4,649.7 L253.2,651.5 L254.9,653.2 L256.7,654.9 L258.4,656.6 L260.2,658.2 L261.9,659.9 L263.7,661.4 L265.5,663.0 L267.2,664.6 L269.0,666.1 L270.7,667.6 L272.5,669.1 L274.2,670.6 L276.0,672.0 L277.7,673.4 L279.5,674.8 L281.3,676.1 L283.0,677.4 L284.8,678.6 L286.5,679.8 L288.3,681.0 L290.0,682.1 L291.8,683.2 L293.5,684.2 L295.3,685.2 L297.1,686.2 L298.8,687.1 L300.6,688.0 L302.3,688.9 L304.1,689.6 L305.8,690.4 L307.6,691.1 L309.4,691.8 L311.1,692.4 L312.9,693.0 L314.6,693.6 L316.4,694.1 L318.1,694.7 L319.9,695.2 L321.6,695.7 L323.4,696.2 L325.2,696.6 L326.9,697.1 L328.7,697.6 L330.4,698.0 L332.2,698.5 L333.9,698.9 L335.7,699.3 L337.4,699.8 L339.2,700.2 L341.0,700.6 L342.7,701.0 L344.5,701.4 L346.2,701.8 L348.0,702.2 L349.7,702.6 L351.5,702.9 L353.3,703.2 L355.0,703.5 L356.8,703.7 L358.5,704.0 L360.3,704.2 L362.0,704.4 L363.8,704.6 L365.5,704.9 L367.3,705.1 L369.1,705.3 L370.8,705.5 L372.6,705.7 L374.3,705.9 L376.1,706.1 L377.8,706.3 L379.6,706.5 L381.3,706.7 L383.1,706.8 L384.9,707.0 L386.6,707.2 L388.4,707.3 L390.1,707.4 L391.9,707.6 L393.6,707.7 L395.4,707.8 L397.1,707.9 L398.9,707.9 L400.7,708.0 L402.4,708.1 L404.2,708.1 L405.9,708.2 L407.7,708.2 L409.4,708.3 L411.2,708.4 L413.0,708.4 L414.7,708.5 L416.5,708.5 L418.2,708.6 L420.0,708.6 L421.7,708.7 L423.5,708.7 L425.2,708.7 L427.0,708.8 L428.8,708.8 L430.5,708.9 L432.3,708.9 L434.0,709.0 L435.8,709.0 L437.5,709.0 L439.3,709.1 L441.0,709.1 L442.8,709.1 L444.6,709.2 L446.3,709.2 L448.1,709.2 L449.8,709.3 L451.6,709.3 L453.3,709.3 L455.1,709.3 L456.8,709.4 L458.6,709.4 L460.4,709.4 L462.1,709.4 L463.9,709.5 L465.6,709.5 L467.4,709.5 L469.1,709.5 L470.9,709.5 L472.7,709.6 L474.4,709.6 L476.2,709.6 L477.9,709.6 L479.7,709.6 L481.4,709.6 L483.2,709.7 L484.9,709.7 L486.7,709.7" stroke="#d024d0"/>
</g>
<rect x="56.5" y="405.2" width="430.2" height="306.2" fill="none" stroke="#4a4a4a" stroke-width="1.3"/>
<line x1="51.5" y1="710.6" x2="56.5" y2="710.6" stroke="#4a4a4a" stroke-width="1.3"/>
<text x="45.3" y="715.0" text-anchor="end" font-size="12.3" fill="#3a3a3a">0</text>
<line x1="51.5" y1="634.2" x2="56.5" y2="634.2" stroke="#4a4a4a" stroke-width="1.3"/>
<text x="45.3" y="638.6" text-anchor="end" font-size="12.3" fill="#3a3a3a">100</text>
<line x1="51.5" y1="557.9" x2="56.5" y2="557.9" stroke="#4a4a4a" stroke-width="1.3"/>
<text x="45.3" y="562.3" text-anchor="end" font-size="12.3" fill="#3a3a3a">200</text>
<line x1="51.5" y1="481.6" x2="56.5" y2="481.6" stroke="#4a4a4a" stroke-width="1.3"/>
<text x="45.3" y="486.0" text-anchor="end" font-size="12.3" fill="#3a3a3a">300</text>
<line x1="51.5" y1="405.2" x2="56.5" y2="405.2" stroke="#4a4a4a" stroke-width="1.3"/>
<text x="45.3" y="409.6" text-anchor="end" font-size="12.3" fill="#3a3a3a">400</text>
<line x1="135.5" y1="711.4" x2="135.5" y2="716.4" stroke="#4a4a4a" stroke-width="1.3"/>
<text x="135.5" y="732.2" text-anchor="middle" font-size="12.3" fill="#3a3a3a">550</text>
<line x1="223.3" y1="711.4" x2="223.3" y2="716.4" stroke="#4a4a4a" stroke-width="1.3"/>
<text x="223.3" y="732.2" text-anchor="middle" font-size="12.3" fill="#3a3a3a">600</text>
<line x1="311.1" y1="711.4" x2="311.1" y2="716.4" stroke="#4a4a4a" stroke-width="1.3"/>
<text x="311.1" y="732.2" text-anchor="middle" font-size="12.3" fill="#3a3a3a">650</text>
<line x1="398.9" y1="711.4" x2="398.9" y2="716.4" stroke="#4a4a4a" stroke-width="1.3"/>
<text x="398.9" y="732.2" text-anchor="middle" font-size="12.3" fill="#3a3a3a">700</text>
<line x1="486.7" y1="711.4" x2="486.7" y2="716.4" stroke="#4a4a4a" stroke-width="1.3"/>
<text x="486.7" y="732.2" text-anchor="middle" font-size="12.3" fill="#3a3a3a">750</text>
<text x="215.9" y="758.75" font-size="14.65" fill="#222">Wavelength (nm)</text>
<text transform="translate(12.3,559.8) rotate(-90)" text-anchor="middle" font-size="14.4" fill="#222">Fluorescence</text>
<text x="63.5" y="432.9" class="serif" font-weight="bold" font-size="23" fill="#000">C</text>
<text x="101.6" y="438.3" font-size="19.5" fill="#000" stroke="#000" stroke-width="0.6">K</text>
<text x="115.19999999999999" y="431.8" font-size="13" fill="#000" stroke="#000" stroke-width="0.5">+</text>
<text x="128.1" y="438.3" font-size="19.5" fill="#000" stroke="#000" stroke-width="0.6">0</text>
<text x="144.2" y="438.3" font-size="19.5" fill="#000" stroke="#000" stroke-width="0.6">mM</text>
<text x="72.9" y="651" font-size="19.5" fill="#000" stroke="#000" stroke-width="0.6">100</text>
<text x="109.9" y="651" font-size="19.5" fill="#000" stroke="#000" stroke-width="0.6">mM</text>
<line x1="88.6" y1="450.8" x2="88.6" y2="617" stroke="#000" stroke-width="1.6"/>
<path d="M82.39999999999999,606.5 L88.6,617 L94.8,606.5" fill="none" stroke="#000" stroke-width="1.6"/>
<line x1="380.9" y1="426.9" x2="398.9" y2="426.9" stroke="#000000" stroke-width="1.7"/>
<text x="415.3" y="431.5" font-size="12.0" letter-spacing="-0.2" fill="#3a3a3a">0 mM  K<tspan dy="-4.5" font-size="8.5">+</tspan></text>
<line x1="380.9" y1="443.3" x2="398.9" y2="443.3" stroke="#c81e1e" stroke-width="1.7"/>
<text x="415.3" y="447.9" font-size="12.0" letter-spacing="-0.2" fill="#3a3a3a">1 mM  K<tspan dy="-4.5" font-size="8.5">+</tspan></text>
<line x1="380.9" y1="459.7" x2="398.9" y2="459.7" stroke="#2ad62a" stroke-width="1.7"/>
<text x="415.3" y="464.3" font-size="12.0" letter-spacing="-0.2" fill="#3a3a3a">5 mM  K<tspan dy="-4.5" font-size="8.5">+</tspan></text>
<line x1="380.9" y1="476.1" x2="398.9" y2="476.1" stroke="#eeee2a" stroke-width="1.7"/>
<text x="415.3" y="480.7" font-size="12.0" letter-spacing="-0.2" fill="#3a3a3a">10 mM  K<tspan dy="-4.5" font-size="8.5">+</tspan></text>
<line x1="380.9" y1="492.5" x2="398.9" y2="492.5" stroke="#1a1aa0" stroke-width="1.7"/>
<text x="415.3" y="497.1" font-size="12.0" letter-spacing="-0.2" fill="#3a3a3a">50 mM  K<tspan dy="-4.5" font-size="8.5">+</tspan></text>
<line x1="380.9" y1="508.9" x2="398.9" y2="508.9" stroke="#d024d0" stroke-width="1.7"/>
<text x="415.3" y="513.5" font-size="12.0" letter-spacing="-0.2" fill="#3a3a3a">100 mM  K<tspan dy="-4.5" font-size="8.5">+</tspan></text>
<g fill="none" stroke-width="1.4" stroke-linejoin="round" clip-path="url(#clipD)">
<path d="M564.5,610.1 L566.3,597.0 L568.1,583.7 L569.9,570.4 L571.7,557.3 L573.6,544.6 L575.4,532.5 L577.2,521.2 L579.0,510.8 L580.8,501.3 L582.6,492.7 L584.4,484.9 L586.2,478.1 L588.0,472.1 L589.8,467.0 L591.7,462.8 L593.5,459.6 L595.3,457.2 L597.1,455.7 L598.9,455.1 L600.7,455.4 L602.5,456.6 L604.3,458.5 L606.1,461.2 L608.0,464.5 L609.8,468.4 L611.6,472.9 L613.4,477.9 L615.2,483.3 L617.0,489.1 L618.8,495.2 L620.6,501.6 L622.4,508.1 L624.3,514.8 L626.1,521.6 L627.9,528.4 L629.7,535.1 L631.5,541.8 L633.3,548.2 L635.1,554.5 L636.9,560.5 L638.7,566.2 L640.5,571.5 L642.4,576.3 L644.2,580.7 L646.0,584.6 L647.8,588.0 L649.6,591.1 L651.4,593.8 L653.2,596.1 L655.0,598.1 L656.8,599.7 L658.7,601.1 L660.5,602.2 L662.3,603.0 L664.1,603.7 L665.9,604.1 L667.7,604.3 L669.5,604.4 L671.3,604.3 L673.1,604.1 L674.9,603.9 L676.8,603.5 L678.6,603.2 L680.4,602.8 L682.2,602.4 L684.0,602.0 L685.8,601.7 L687.6,601.4 L689.4,601.2 L691.2,601.2 L693.1,601.3 L694.9,601.5 L696.7,601.9 L698.5,602.5 L700.3,603.3 L702.1,604.2 L703.9,605.3 L705.7,606.4 L707.5,607.8 L709.3,609.2 L711.2,610.8 L713.0,612.5 L714.8,614.2 L716.6,616.1 L718.4,618.0 L720.2,620.0 L722.0,622.1 L723.8,624.3 L725.6,626.4 L727.5,628.7 L729.3,630.9 L731.1,633.2 L732.9,635.5 L734.7,637.8 L736.5,640.1 L738.3,642.4 L740.1,644.7 L741.9,647.0 L743.8,649.2 L745.6,651.4 L747.4,653.5 L749.2,655.6 L751.0,657.6 L752.8,659.6 L754.6,661.6 L756.4,663.4 L758.2,665.3 L760.0,667.1 L761.9,668.8 L763.7,670.5 L765.5,672.2 L767.3,673.8 L769.1,675.4 L770.9,676.9 L772.7,678.4 L774.5,679.8 L776.3,681.2 L778.2,682.6 L780.0,683.9 L781.8,685.2 L783.6,686.5 L785.4,687.7 L787.2,688.8 L789.0,690.0 L790.8,691.1 L792.6,692.1 L794.4,693.1 L796.3,694.1 L798.1,695.1 L799.9,696.0 L801.7,696.9 L803.5,697.8 L805.3,698.6 L807.1,699.4 L808.9,700.1 L810.7,700.9 L812.6,701.6 L814.4,702.3 L816.2,702.9 L818.0,703.5 L819.8,704.1 L821.6,704.6 L823.4,705.0 L825.2,705.5 L827.0,705.9 L828.8,706.3 L830.7,706.7 L832.5,707.0 L834.3,707.3 L836.1,707.6 L837.9,707.9 L839.7,708.2 L841.5,708.5 L843.3,708.8 L845.1,709.1 L847.0,709.3 L848.8,709.6 L850.6,709.8 L852.4,710.1 L854.2,710.3 L856.0,710.5 L857.8,710.8 L859.6,711.0 L861.4,711.2 L863.3,711.4 L865.1,711.6 L866.9,711.8 L868.7,712.0 L870.5,712.2 L872.3,712.3 L874.1,712.5 L875.9,712.7 L877.7,712.8 L879.5,713.0 L881.4,713.1 L883.2,713.3 L885.0,713.4 L886.8,713.5 L888.6,713.7 L890.4,713.8 L892.2,714.0 L894.0,714.1 L895.8,714.2 L897.7,714.3 L899.5,714.5 L901.3,714.6 L903.1,714.7 L904.9,714.8 L906.7,714.9 L908.5,715.0 L910.3,715.1 L912.1,715.2 L913.9,715.3 L915.8,715.3 L917.6,715.4 L919.4,715.5 L921.2,715.6 L923.0,715.6 L924.8,715.7 L926.6,715.7 L928.4,715.8 L930.2,715.9 L932.1,715.9 L933.9,716.0 L935.7,716.0 L937.5,716.1 L939.3,716.1 L941.1,716.2 L942.9,716.2 L944.7,716.3 L946.5,716.3 L948.3,716.3 L950.2,716.4 L952.0,716.4 L953.8,716.5 L955.6,716.5 L957.4,716.6 L959.2,716.6 L961.0,716.6 L962.8,716.7 L964.6,716.7 L966.5,716.7 L968.3,716.8 L970.1,716.8 L971.9,716.8 L973.7,716.9 L975.5,716.9 L977.3,716.9 L979.1,717.0 L980.9,717.0 L982.8,717.0 L984.6,717.1 L986.4,717.1 L988.2,717.1 L990.0,717.1 L991.8,717.2 L993.6,717.2 L995.4,717.2 L997.2,717.2 L999.0,717.3 L1000.9,717.3 L1002.7,717.3 L1004.5,717.3 L1006.3,717.3 L1008.1,717.4" stroke="#000000"/>
<path d="M564.5,611.7 L566.3,598.4 L568.1,585.1 L569.9,571.9 L571.7,559.0 L573.6,546.6 L575.4,534.8 L577.2,523.8 L579.0,513.7 L580.8,504.3 L582.6,495.9 L584.4,488.3 L586.2,481.6 L588.0,475.8 L589.8,470.8 L591.7,466.7 L593.5,463.5 L595.3,461.1 L597.1,459.6 L598.9,459.1 L600.7,459.4 L602.5,460.5 L604.3,462.4 L606.1,465.0 L608.0,468.3 L609.8,472.2 L611.6,476.6 L613.4,481.5 L615.2,486.8 L617.0,492.5 L618.8,498.5 L620.6,504.8 L622.4,511.2 L624.3,517.8 L626.1,524.5 L627.9,531.2 L629.7,537.8 L631.5,544.3 L633.3,550.7 L635.1,556.9 L636.9,562.8 L638.7,568.4 L640.5,573.6 L642.4,578.3 L644.2,582.6 L646.0,586.4 L647.8,589.8 L649.6,592.8 L651.4,595.5 L653.2,597.7 L655.0,599.7 L656.8,601.3 L658.7,602.6 L660.5,603.6 L662.3,604.5 L664.1,605.0 L665.9,605.4 L667.7,605.6 L669.5,605.7 L671.3,605.6 L673.1,605.4 L674.9,605.1 L676.8,604.8 L678.6,604.4 L680.4,603.9 L682.2,603.5 L684.0,603.1 L685.8,602.8 L687.6,602.5 L689.4,602.3 L691.2,602.2 L693.1,602.3 L694.9,602.5 L696.7,602.9 L698.5,603.4 L700.3,604.2 L702.1,605.0 L703.9,606.1 L705.7,607.2 L707.5,608.5 L709.3,610.0 L711.2,611.5 L713.0,613.1 L714.8,614.9 L716.6,616.7 L718.4,618.6 L720.2,620.6 L722.0,622.7 L723.8,624.8 L725.6,626.9 L727.5,629.1 L729.3,631.4 L731.1,633.6 L732.9,635.9 L734.7,638.2 L736.5,640.5 L738.3,642.7 L740.1,645.0 L741.9,647.2 L743.8,649.4 L745.6,651.6 L747.4,653.7 L749.2,655.8 L751.0,657.8 L752.8,659.8 L754.6,661.7 L756.4,663.6 L758.2,665.4 L760.0,667.2 L761.9,668.9 L763.7,670.6 L765.5,672.2 L767.3,673.8 L769.1,675.4 L770.9,676.9 L772.7,678.4 L774.5,679.8 L776.3,681.2 L778.2,682.6 L780.0,683.9 L781.8,685.2 L783.6,686.4 L785.4,687.6 L787.2,688.8 L789.0,689.9 L790.8,691.0 L792.6,692.0 L794.4,693.1 L796.3,694.1 L798.1,695.0 L799.9,695.9 L801.7,696.8 L803.5,697.7 L805.3,698.5 L807.1,699.3 L808.9,700.1 L810.7,700.8 L812.6,701.5 L814.4,702.2 L816.2,702.8 L818.0,703.5 L819.8,704.0 L821.6,704.5 L823.4,705.0 L825.2,705.4 L827.0,705.8 L828.8,706.2 L830.7,706.6 L832.5,706.9 L834.3,707.3 L836.1,707.6 L837.9,707.9 L839.7,708.2 L841.5,708.5 L843.3,708.8 L845.1,709.0 L847.0,709.3 L848.8,709.6 L850.6,709.8 L852.4,710.0 L854.2,710.3 L856.0,710.5 L857.8,710.7 L859.6,711.0 L861.4,711.2 L863.3,711.4 L865.1,711.6 L866.9,711.8 L868.7,712.0 L870.5,712.2 L872.3,712.3 L874.1,712.5 L875.9,712.7 L877.7,712.8 L879.5,713.0 L881.4,713.1 L883.2,713.3 L885.0,713.4 L886.8,713.5 L888.6,713.7 L890.4,713.8 L892.2,714.0 L894.0,714.1 L895.8,714.2 L897.7,714.3 L899.5,714.5 L901.3,714.6 L903.1,714.7 L904.9,714.8 L906.7,714.9 L908.5,715.0 L910.3,715.1 L912.1,715.2 L913.9,715.3 L915.8,715.3 L917.6,715.4 L919.4,715.5 L921.2,715.6 L923.0,715.6 L924.8,715.7 L926.6,715.7 L928.4,715.8 L930.2,715.9 L932.1,715.9 L933.9,716.0 L935.7,716.0 L937.5,716.1 L939.3,716.1 L941.1,716.2 L942.9,716.2 L944.7,716.3 L946.5,716.3 L948.3,716.3 L950.2,716.4 L952.0,716.4 L953.8,716.5 L955.6,716.5 L957.4,716.6 L959.2,716.6 L961.0,716.6 L962.8,716.7 L964.6,716.7 L966.5,716.7 L968.3,716.8 L970.1,716.8 L971.9,716.8 L973.7,716.9 L975.5,716.9 L977.3,716.9 L979.1,717.0 L980.9,717.0 L982.8,717.0 L984.6,717.1 L986.4,717.1 L988.2,717.1 L990.0,717.1 L991.8,717.2 L993.6,717.2 L995.4,717.2 L997.2,717.2 L999.0,717.3 L1000.9,717.3 L1002.7,717.3 L1004.5,717.3 L1006.3,717.3 L1008.1,717.4" stroke="#c81e1e"/>
<path d="M564.5,612.8 L566.3,598.8 L568.1,585.4 L569.9,572.5 L571.7,560.3 L573.6,548.7 L575.4,537.7 L577.2,527.4 L579.0,517.8 L580.8,508.9 L582.6,500.8 L584.4,493.4 L586.2,486.7 L588.0,480.8 L589.8,475.8 L591.7,471.5 L593.5,468.1 L595.3,465.6 L597.1,463.9 L598.9,463.2 L600.7,463.3 L602.5,464.3 L604.3,466.1 L606.1,468.7 L608.0,471.9 L609.8,475.7 L611.6,480.1 L613.4,485.0 L615.2,490.4 L617.0,496.1 L618.8,502.1 L620.6,508.4 L622.4,514.9 L624.3,521.6 L626.1,528.3 L627.9,535.0 L629.7,541.7 L631.5,548.3 L633.3,554.8 L635.1,561.0 L636.9,567.0 L638.7,572.6 L640.5,577.8 L642.4,582.5 L644.2,586.8 L646.0,590.6 L647.8,594.0 L649.6,597.0 L651.4,599.5 L653.2,601.7 L655.0,603.6 L656.8,605.1 L658.7,606.4 L660.5,607.3 L662.3,608.0 L664.1,608.5 L665.9,608.8 L667.7,608.8 L669.5,608.8 L671.3,608.5 L673.1,608.2 L674.9,607.8 L676.8,607.3 L678.6,606.8 L680.4,606.2 L682.2,605.7 L684.0,605.1 L685.8,604.7 L687.6,604.2 L689.4,603.9 L691.2,603.7 L693.1,603.7 L694.9,603.8 L696.7,604.0 L698.5,604.5 L700.3,605.1 L702.1,605.9 L703.9,606.9 L705.7,608.0 L707.5,609.2 L709.3,610.5 L711.2,612.0 L713.0,613.6 L714.8,615.3 L716.6,617.1 L718.4,618.9 L720.2,620.9 L722.0,622.9 L723.8,625.0 L725.6,627.1 L727.5,629.3 L729.3,631.5 L731.1,633.7 L732.9,636.0 L734.7,638.2 L736.5,640.5 L738.3,642.8 L740.1,645.0 L741.9,647.2 L743.8,649.4 L745.6,651.6 L747.4,653.7 L749.2,655.7 L751.0,657.7 L752.8,659.7 L754.6,661.6 L756.4,663.5 L758.2,665.3 L760.0,667.1 L761.9,668.8 L763.7,670.5 L765.5,672.1 L767.3,673.7 L769.1,675.3 L770.9,676.8 L772.7,678.3 L774.5,679.7 L776.3,681.1 L778.2,682.4 L780.0,683.8 L781.8,685.0 L783.6,686.3 L785.4,687.5 L787.2,688.6 L789.0,689.8 L790.8,690.8 L792.6,691.9 L794.4,692.9 L796.3,693.9 L798.1,694.9 L799.9,695.8 L801.7,696.7 L803.5,697.5 L805.3,698.4 L807.1,699.2 L808.9,699.9 L810.7,700.7 L812.6,701.4 L814.4,702.1 L816.2,702.7 L818.0,703.4 L819.8,703.9 L821.6,704.4 L823.4,704.9 L825.2,705.3 L827.0,705.8 L828.8,706.2 L830.7,706.6 L832.5,706.9 L834.3,707.2 L836.1,707.6 L837.9,707.9 L839.7,708.2 L841.5,708.5 L843.3,708.8 L845.1,709.0 L847.0,709.3 L848.8,709.6 L850.6,709.8 L852.4,710.0 L854.2,710.3 L856.0,710.5 L857.8,710.8 L859.6,711.0 L861.4,711.2 L863.3,711.4 L865.1,711.6 L866.9,711.8 L868.7,712.0 L870.5,712.2 L872.3,712.3 L874.1,712.5 L875.9,712.7 L877.7,712.8 L879.5,713.0 L881.4,713.1 L883.2,713.3 L885.0,713.4 L886.8,713.5 L888.6,713.7 L890.4,713.8 L892.2,714.0 L894.0,714.1 L895.8,714.2 L897.7,714.3 L899.5,714.5 L901.3,714.6 L903.1,714.7 L904.9,714.8 L906.7,714.9 L908.5,715.0 L910.3,715.1 L912.1,715.2 L913.9,715.3 L915.8,715.3 L917.6,715.4 L919.4,715.5 L921.2,715.6 L923.0,715.6 L924.8,715.7 L926.6,715.7 L928.4,715.8 L930.2,715.9 L932.1,715.9 L933.9,716.0 L935.7,716.0 L937.5,716.1 L939.3,716.1 L941.1,716.2 L942.9,716.2 L944.7,716.3 L946.5,716.3 L948.3,716.3 L950.2,716.4 L952.0,716.4 L953.8,716.5 L955.6,716.5 L957.4,716.6 L959.2,716.6 L961.0,716.6 L962.8,716.7 L964.6,716.7 L966.5,716.7 L968.3,716.8 L970.1,716.8 L971.9,716.8 L973.7,716.9 L975.5,716.9 L977.3,716.9 L979.1,717.0 L980.9,717.0 L982.8,717.0 L984.6,717.1 L986.4,717.1 L988.2,717.1 L990.0,717.1 L991.8,717.2 L993.6,717.2 L995.4,717.2 L997.2,717.2 L999.0,717.3 L1000.9,717.3 L1002.7,717.3 L1004.5,717.3 L1006.3,717.3 L1008.1,717.4" stroke="#2ad62a"/>
<path d="M564.5,610.1 L566.3,595.2 L568.1,581.0 L569.9,567.4 L571.7,554.5 L573.6,542.4 L575.4,531.0 L577.2,520.3 L579.0,510.4 L580.8,501.2 L582.6,492.8 L584.4,485.3 L586.2,478.5 L588.0,472.6 L589.8,467.5 L591.7,463.3 L593.5,459.9 L595.3,457.4 L597.1,455.8 L598.9,455.1 L600.7,455.4 L602.5,456.5 L604.3,458.4 L606.1,461.0 L608.0,464.3 L609.8,468.3 L611.6,472.8 L613.4,477.8 L615.2,483.2 L617.0,489.1 L618.8,495.2 L620.6,501.6 L622.4,508.3 L624.3,515.0 L626.1,521.8 L627.9,528.7 L629.7,535.5 L631.5,542.2 L633.3,548.7 L635.1,555.0 L636.9,561.1 L638.7,566.8 L640.5,572.0 L642.4,576.9 L644.2,581.2 L646.0,585.1 L647.8,588.5 L649.6,591.5 L651.4,594.1 L653.2,596.3 L655.0,598.2 L656.8,599.7 L658.7,601.0 L660.5,602.0 L662.3,602.7 L664.1,603.2 L665.9,603.4 L667.7,603.5 L669.5,603.5 L671.3,603.3 L673.1,603.0 L674.9,602.6 L676.8,602.1 L678.6,601.6 L680.4,601.1 L682.2,600.6 L684.0,600.1 L685.8,599.7 L687.6,599.4 L689.4,599.2 L691.2,599.0 L693.1,599.1 L694.9,599.3 L696.7,599.7 L698.5,600.3 L700.3,601.1 L702.1,602.0 L703.9,603.1 L705.7,604.4 L707.5,605.8 L709.3,607.3 L711.2,609.0 L713.0,610.8 L714.8,612.6 L716.6,614.6 L718.4,616.7 L720.2,618.8 L722.0,621.0 L723.8,623.3 L725.6,625.6 L727.5,628.0 L729.3,630.4 L731.1,632.8 L732.9,635.2 L734.7,637.7 L736.5,640.1 L738.3,642.5 L740.1,644.9 L741.9,647.3 L743.8,649.6 L745.6,651.8 L747.4,654.0 L749.2,656.2 L751.0,658.3 L752.8,660.3 L754.6,662.3 L756.4,664.2 L758.2,666.0 L760.0,667.8 L761.9,669.6 L763.7,671.2 L765.5,672.9 L767.3,674.5 L769.1,676.0 L770.9,677.5 L772.7,678.9 L774.5,680.3 L776.3,681.7 L778.2,683.0 L780.0,684.2 L781.8,685.4 L783.6,686.6 L785.4,687.7 L787.2,688.8 L789.0,689.9 L790.8,690.9 L792.6,691.9 L794.4,692.8 L796.3,693.7 L798.1,694.6 L799.9,695.4 L801.7,696.3 L803.5,697.0 L805.3,697.8 L807.1,698.5 L808.9,699.2 L810.7,699.9 L812.6,700.5 L814.4,701.1 L816.2,701.7 L818.0,702.3 L819.8,702.8 L821.6,703.4 L823.4,703.8 L825.2,704.3 L827.0,704.8 L828.8,705.2 L830.7,705.6 L832.5,706.0 L834.3,706.4 L836.1,706.8 L837.9,707.2 L839.7,707.5 L841.5,707.9 L843.3,708.2 L845.1,708.6 L847.0,708.9 L848.8,709.2 L850.6,709.5 L852.4,709.8 L854.2,710.1 L856.0,710.4 L857.8,710.7 L859.6,710.9 L861.4,711.2 L863.3,711.4 L865.1,711.6 L866.9,711.8 L868.7,712.0 L870.5,712.2 L872.3,712.3 L874.1,712.5 L875.9,712.7 L877.7,712.8 L879.5,713.0 L881.4,713.1 L883.2,713.3 L885.0,713.4 L886.8,713.5 L888.6,713.7 L890.4,713.8 L892.2,714.0 L894.0,714.1 L895.8,714.2 L897.7,714.3 L899.5,714.5 L901.3,714.6 L903.1,714.7 L904.9,714.8 L906.7,714.9 L908.5,715.0 L910.3,715.1 L912.1,715.2 L913.9,715.3 L915.8,715.3 L917.6,715.4 L919.4,715.5 L921.2,715.6 L923.0,715.6 L924.8,715.7 L926.6,715.7 L928.4,715.8 L930.2,715.9 L932.1,715.9 L933.9,716.0 L935.7,716.0 L937.5,716.1 L939.3,716.1 L941.1,716.2 L942.9,716.2 L944.7,716.3 L946.5,716.3 L948.3,716.3 L950.2,716.4 L952.0,716.4 L953.8,716.5 L955.6,716.5 L957.4,716.6 L959.2,716.6 L961.0,716.6 L962.8,716.7 L964.6,716.7 L966.5,716.7 L968.3,716.8 L970.1,716.8 L971.9,716.8 L973.7,716.9 L975.5,716.9 L977.3,716.9 L979.1,717.0 L980.9,717.0 L982.8,717.0 L984.6,717.1 L986.4,717.1 L988.2,717.1 L990.0,717.1 L991.8,717.2 L993.6,717.2 L995.4,717.2 L997.2,717.2 L999.0,717.3 L1000.9,717.3 L1002.7,717.3 L1004.5,717.3 L1006.3,717.3 L1008.1,717.4" stroke="#eeee2a"/>
<path d="M564.5,629.1 L566.3,617.2 L568.1,606.2 L569.9,596.0 L571.7,586.5 L573.6,577.9 L575.4,570.0 L577.2,562.9 L579.0,556.3 L580.8,550.3 L582.6,544.6 L584.4,539.1 L586.2,533.8 L588.0,528.8 L589.8,524.1 L591.7,520.0 L593.5,516.4 L595.3,513.4 L597.1,511.2 L598.9,509.7 L600.7,509.2 L602.5,509.6 L604.3,510.8 L606.1,512.7 L608.0,515.4 L609.8,518.6 L611.6,522.4 L613.4,526.6 L615.2,531.2 L617.0,536.1 L618.8,541.2 L620.6,546.4 L622.4,551.7 L624.3,557.1 L626.1,562.3 L627.9,567.4 L629.7,572.3 L631.5,577.0 L633.3,581.5 L635.1,585.8 L636.9,589.9 L638.7,593.8 L640.5,597.5 L642.4,601.0 L644.2,604.3 L646.0,607.3 L647.8,610.2 L649.6,612.8 L651.4,615.2 L653.2,617.3 L655.0,619.3 L656.8,621.0 L658.7,622.4 L660.5,623.7 L662.3,624.6 L664.1,625.4 L665.9,625.8 L667.7,626.1 L669.5,626.1 L671.3,625.8 L673.1,625.4 L674.9,624.9 L676.8,624.1 L678.6,623.3 L680.4,622.4 L682.2,621.4 L684.0,620.3 L685.8,619.2 L687.6,618.2 L689.4,617.1 L691.2,616.1 L693.1,615.2 L694.9,614.4 L696.7,613.7 L698.5,613.1 L700.3,612.8 L702.1,612.6 L703.9,612.6 L705.7,612.9 L707.5,613.4 L709.3,614.1 L711.2,615.0 L713.0,616.1 L714.8,617.4 L716.6,618.8 L718.4,620.4 L720.2,622.2 L722.0,624.0 L723.8,626.0 L725.6,628.0 L727.5,630.2 L729.3,632.4 L731.1,634.7 L732.9,637.0 L734.7,639.3 L736.5,641.7 L738.3,644.1 L740.1,646.4 L741.9,648.7 L743.8,651.0 L745.6,653.3 L747.4,655.5 L749.2,657.6 L751.0,659.7 L752.8,661.7 L754.6,663.6 L756.4,665.5 L758.2,667.3 L760.0,669.0 L761.9,670.7 L763.7,672.4 L765.5,674.0 L767.3,675.5 L769.1,677.0 L770.9,678.5 L772.7,679.8 L774.5,681.2 L776.3,682.5 L778.2,683.7 L780.0,684.9 L781.8,686.1 L783.6,687.2 L785.4,688.3 L787.2,689.3 L789.0,690.3 L790.8,691.3 L792.6,692.2 L794.4,693.1 L796.3,694.0 L798.1,694.8 L799.9,695.6 L801.7,696.3 L803.5,697.1 L805.3,697.8 L807.1,698.5 L808.9,699.1 L810.7,699.7 L812.6,700.3 L814.4,700.9 L816.2,701.5 L818.0,702.0 L819.8,702.5 L821.6,703.0 L823.4,703.5 L825.2,704.0 L827.0,704.4 L828.8,704.9 L830.7,705.3 L832.5,705.7 L834.3,706.1 L836.1,706.5 L837.9,706.9 L839.7,707.3 L841.5,707.7 L843.3,708.0 L845.1,708.4 L847.0,708.7 L848.8,709.1 L850.6,709.4 L852.4,709.7 L854.2,710.0 L856.0,710.3 L857.8,710.6 L859.6,710.9 L861.4,711.1 L863.3,711.4 L865.1,711.6 L866.9,711.8 L868.7,712.0 L870.5,712.2 L872.3,712.3 L874.1,712.5 L875.9,712.7 L877.7,712.8 L879.5,713.0 L881.4,713.1 L883.2,713.3 L885.0,713.4 L886.8,713.5 L888.6,713.7 L890.4,713.8 L892.2,714.0 L894.0,714.1 L895.8,714.2 L897.7,714.3 L899.5,714.5 L901.3,714.6 L903.1,714.7 L904.9,714.8 L906.7,714.9 L908.5,715.0 L910.3,715.1 L912.1,715.2 L913.9,715.3 L915.8,715.3 L917.6,715.4 L919.4,715.5 L921.2,715.6 L923.0,715.6 L924.8,715.7 L926.6,715.7 L928.4,715.8 L930.2,715.9 L932.1,715.9 L933.9,716.0 L935.7,716.0 L937.5,716.1 L939.3,716.1 L941.1,716.2 L942.9,716.2 L944.7,716.3 L946.5,716.3 L948.3,716.3 L950.2,716.4 L952.0,716.4 L953.8,716.5 L955.6,716.5 L957.4,716.6 L959.2,716.6 L961.0,716.6 L962.8,716.7 L964.6,716.7 L966.5,716.7 L968.3,716.8 L970.1,716.8 L971.9,716.8 L973.7,716.9 L975.5,716.9 L977.3,716.9 L979.1,717.0 L980.9,717.0 L982.8,717.0 L984.6,717.1 L986.4,717.1 L988.2,717.1 L990.0,717.1 L991.8,717.2 L993.6,717.2 L995.4,717.2 L997.2,717.2 L999.0,717.3 L1000.9,717.3 L1002.7,717.3 L1004.5,717.3 L1006.3,717.3 L1008.1,717.4" stroke="#1a1aa0"/>
<path d="M564.5,642.7 L566.3,638.3 L568.1,633.4 L569.9,628.0 L571.7,622.1 L573.6,615.8 L575.4,609.0 L577.2,601.7 L579.0,594.2 L580.8,586.7 L582.6,579.6 L584.4,573.2 L586.2,567.7 L588.0,563.0 L589.8,559.1 L591.7,555.9 L593.5,553.5 L595.3,551.7 L597.1,550.5 L598.9,549.9 L600.7,549.9 L602.5,550.5 L604.3,551.5 L606.1,552.9 L608.0,554.8 L609.8,557.0 L611.6,559.6 L613.4,562.5 L615.2,565.6 L617.0,569.0 L618.8,572.6 L620.6,576.3 L622.4,580.2 L624.3,584.1 L626.1,588.0 L627.9,592.0 L629.7,596.0 L631.5,599.9 L633.3,603.6 L635.1,607.3 L636.9,610.8 L638.7,614.2 L640.5,617.5 L642.4,620.5 L644.2,623.5 L646.0,626.2 L647.8,628.8 L649.6,631.1 L651.4,633.3 L653.2,635.3 L655.0,637.0 L656.8,638.5 L658.7,639.8 L660.5,640.8 L662.3,641.6 L664.1,642.1 L665.9,642.4 L667.7,642.4 L669.5,642.1 L671.3,641.7 L673.1,641.0 L674.9,640.2 L676.8,639.2 L678.6,638.0 L680.4,636.8 L682.2,635.5 L684.0,634.1 L685.8,632.6 L687.6,631.2 L689.4,629.7 L691.2,628.3 L693.1,626.8 L694.9,625.5 L696.7,624.3 L698.5,623.1 L700.3,622.1 L702.1,621.2 L703.9,620.5 L705.7,620.0 L707.5,619.7 L709.3,619.7 L711.2,619.9 L713.0,620.3 L714.8,621.0 L716.6,621.9 L718.4,622.9 L720.2,624.2 L722.0,625.6 L723.8,627.2 L725.6,628.9 L727.5,630.7 L729.3,632.7 L731.1,634.7 L732.9,636.9 L734.7,639.1 L736.5,641.4 L738.3,643.7 L740.1,646.0 L741.9,648.4 L743.8,650.8 L745.6,653.2 L747.4,655.5 L749.2,657.8 L751.0,660.1 L752.8,662.4 L754.6,664.6 L756.4,666.7 L758.2,668.8 L760.0,670.8 L761.9,672.7 L763.7,674.5 L765.5,676.3 L767.3,677.9 L769.1,679.5 L770.9,680.9 L772.7,682.2 L774.5,683.4 L776.3,684.5 L778.2,685.5 L780.0,686.4 L781.8,687.2 L783.6,688.0 L785.4,688.8 L787.2,689.5 L789.0,690.1 L790.8,690.8 L792.6,691.5 L794.4,692.1 L796.3,692.8 L798.1,693.5 L799.9,694.2 L801.7,694.9 L803.5,695.6 L805.3,696.2 L807.1,696.9 L808.9,697.6 L810.7,698.3 L812.6,699.0 L814.4,699.6 L816.2,700.3 L818.0,701.0 L819.8,701.6 L821.6,702.3 L823.4,702.9 L825.2,703.5 L827.0,704.1 L828.8,704.6 L830.7,705.1 L832.5,705.6 L834.3,706.1 L836.1,706.5 L837.9,706.9 L839.7,707.4 L841.5,707.8 L843.3,708.1 L845.1,708.5 L847.0,708.9 L848.8,709.2 L850.6,709.5 L852.4,709.8 L854.2,710.1 L856.0,710.4 L857.8,710.7 L859.6,710.9 L861.4,711.2 L863.3,711.4 L865.1,711.6 L866.9,711.8 L868.7,712.0 L870.5,712.2 L872.3,712.3 L874.1,712.5 L875.9,712.7 L877.7,712.8 L879.5,713.0 L881.4,713.1 L883.2,713.3 L885.0,713.4 L886.8,713.5 L888.6,713.7 L890.4,713.8 L892.2,714.0 L894.0,714.1 L895.8,714.2 L897.7,714.3 L899.5,714.5 L901.3,714.6 L903.1,714.7 L904.9,714.8 L906.7,714.9 L908.5,715.0 L910.3,715.1 L912.1,715.2 L913.9,715.3 L915.8,715.3 L917.6,715.4 L919.4,715.5 L921.2,715.6 L923.0,715.6 L924.8,715.7 L926.6,715.7 L928.4,715.8 L930.2,715.9 L932.1,715.9 L933.9,716.0 L935.7,716.0 L937.5,716.1 L939.3,716.1 L941.1,716.2 L942.9,716.2 L944.7,716.3 L946.5,716.3 L948.3,716.3 L950.2,716.4 L952.0,716.4 L953.8,716.5 L955.6,716.5 L957.4,716.6 L959.2,716.6 L961.0,716.6 L962.8,716.7 L964.6,716.7 L966.5,716.7 L968.3,716.8 L970.1,716.8 L971.9,716.8 L973.7,716.9 L975.5,716.9 L977.3,716.9 L979.1,717.0 L980.9,717.0 L982.8,717.0 L984.6,717.1 L986.4,717.1 L988.2,717.1 L990.0,717.1 L991.8,717.2 L993.6,717.2 L995.4,717.2 L997.2,717.2 L999.0,717.3 L1000.9,717.3 L1002.7,717.3 L1004.5,717.3 L1006.3,717.3 L1008.1,717.4" stroke="#d024d0"/>
</g>
<rect x="564.5" y="406" width="443.6" height="313.2" fill="none" stroke="#4a4a4a" stroke-width="1.3"/>
<line x1="559.5" y1="717.6" x2="564.5" y2="717.6" stroke="#4a4a4a" stroke-width="1.3"/>
<text x="553.4" y="722.0" text-anchor="end" font-size="12.3" fill="#3a3a3a">0</text>
<line x1="559.5" y1="639.7" x2="564.5" y2="639.7" stroke="#4a4a4a" stroke-width="1.3"/>
<text x="553.4" y="644.1" text-anchor="end" font-size="12.3" fill="#3a3a3a">100</text>
<line x1="559.5" y1="561.8" x2="564.5" y2="561.8" stroke="#4a4a4a" stroke-width="1.3"/>
<text x="553.4" y="566.2" text-anchor="end" font-size="12.3" fill="#3a3a3a">200</text>
<line x1="559.5" y1="483.9" x2="564.5" y2="483.9" stroke="#4a4a4a" stroke-width="1.3"/>
<text x="553.4" y="488.3" text-anchor="end" font-size="12.3" fill="#3a3a3a">300</text>
<line x1="559.5" y1="406.0" x2="564.5" y2="406.0" stroke="#4a4a4a" stroke-width="1.3"/>
<text x="553.4" y="410.4" text-anchor="end" font-size="12.3" fill="#3a3a3a">400</text>
<line x1="646.0" y1="719.2" x2="646.0" y2="724.2" stroke="#4a4a4a" stroke-width="1.3"/>
<text x="646.0" y="739.7" text-anchor="middle" font-size="12.3" fill="#3a3a3a">550</text>
<line x1="736.5" y1="719.2" x2="736.5" y2="724.2" stroke="#4a4a4a" stroke-width="1.3"/>
<text x="736.5" y="739.7" text-anchor="middle" font-size="12.3" fill="#3a3a3a">600</text>
<line x1="827.0" y1="719.2" x2="827.0" y2="724.2" stroke="#4a4a4a" stroke-width="1.3"/>
<text x="827.0" y="739.7" text-anchor="middle" font-size="12.3" fill="#3a3a3a">650</text>
<line x1="917.6" y1="719.2" x2="917.6" y2="724.2" stroke="#4a4a4a" stroke-width="1.3"/>
<text x="917.6" y="739.7" text-anchor="middle" font-size="12.3" fill="#3a3a3a">700</text>
<line x1="1008.1" y1="719.2" x2="1008.1" y2="724.2" stroke="#4a4a4a" stroke-width="1.3"/>
<text x="1008.1" y="739.7" text-anchor="middle" font-size="12.3" fill="#3a3a3a">750</text>
<text x="728.4" y="766" font-size="15.07" fill="#222">Wavelength (nm)</text>
<text x="577" y="432.9" class="serif" font-weight="bold" font-size="23" fill="#000">D</text>
<text x="616.4" y="456.3" font-size="19.5" fill="#000" stroke="#000" stroke-width="0.6">Na</text>
<text x="641.4" y="449.8" font-size="13" fill="#000" stroke="#000" stroke-width="0.5">+</text>
<text x="653.4" y="456.3" font-size="19.5" fill="#000" stroke="#000" stroke-width="0.6">0</text>
<text x="669.9" y="456.3" font-size="19.5" fill="#000" stroke="#000" stroke-width="0.6">mM</text>
<text x="578.75" y="660.4" font-size="19.5" fill="#000" stroke="#000" stroke-width="0.6">100</text>
<text x="615.75" y="660.4" font-size="19.5" fill="#000" stroke="#000" stroke-width="0.6">mM</text>
<line x1="598.7" y1="455.5" x2="598.7" y2="618.75" stroke="#000" stroke-width="1.6"/>
<path d="M592.5,608.25 L598.7,618.75 L604.9000000000001,608.25" fill="none" stroke="#000" stroke-width="1.6"/>
<line x1="894.5" y1="425.8" x2="913.2" y2="425.8" stroke="#000000" stroke-width="1.7"/>
<text x="930.2" y="430.4" font-size="12.6" letter-spacing="-0.2" fill="#3a3a3a">0 mM Na<tspan dy="-4.5" font-size="8.5">+</tspan></text>
<line x1="894.5" y1="442.6" x2="913.2" y2="442.6" stroke="#c81e1e" stroke-width="1.7"/>
<text x="930.2" y="447.2" font-size="12.6" letter-spacing="-0.2" fill="#3a3a3a">1 mM Na<tspan dy="-4.5" font-size="8.5">+</tspan></text>
<line x1="894.5" y1="459.4" x2="913.2" y2="459.4" stroke="#2ad62a" stroke-width="1.7"/>
<text x="930.2" y="464.0" font-size="12.6" letter-spacing="-0.2" fill="#3a3a3a">5 mM Na<tspan dy="-4.5" font-size="8.5">+</tspan></text>
<line x1="894.5" y1="476.2" x2="913.2" y2="476.2" stroke="#eeee2a" stroke-width="1.7"/>
<text x="930.2" y="480.8" font-size="12.6" letter-spacing="-0.2" fill="#3a3a3a">10 mM Na<tspan dy="-4.5" font-size="8.5">+</tspan></text>
<line x1="894.5" y1="493.0" x2="913.2" y2="493.0" stroke="#1a1aa0" stroke-width="1.7"/>
<text x="930.2" y="497.6" font-size="12.6" letter-spacing="-0.2" fill="#3a3a3a">50 mM Na<tspan dy="-4.5" font-size="8.5">+</tspan></text>
<line x1="894.5" y1="509.8" x2="913.2" y2="509.8" stroke="#d024d0" stroke-width="1.7"/>
<text x="930.2" y="514.4" font-size="12.6" letter-spacing="-0.2" fill="#3a3a3a">100 mM Na<tspan dy="-4.5" font-size="8.5">+</tspan></text>
</svg>
</body></html>
